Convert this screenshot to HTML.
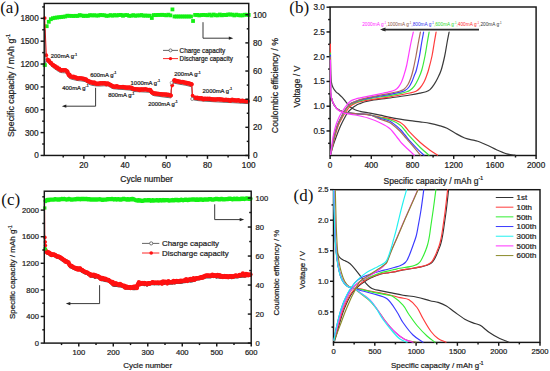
<!DOCTYPE html>
<html><head><meta charset="utf-8"><style>
html,body{margin:0;padding:0;background:#fff;}
svg{display:block;}
text{font-family:"Liberation Sans",sans-serif;stroke-width:0.22px;paint-order:stroke;}
text.sf{font-family:"Liberation Serif",serif;}
</style></head><body>
<svg width="550" height="371" viewBox="0 0 550 371">
<rect width="550" height="371" fill="#fff"/>
<rect x="42.76" y="63.1" width="3.8" height="3.8" fill="#14f014"/>
<rect x="44.82" y="24.3" width="3.8" height="3.8" fill="#14f014"/>
<rect x="46.88" y="19.9" width="3.8" height="3.8" fill="#14f014"/>
<rect x="48.94" y="17.3" width="3.8" height="3.8" fill="#14f014"/>
<rect x="51.01" y="16.3" width="3.8" height="3.8" fill="#14f014"/>
<rect x="53.07" y="15.85" width="3.8" height="3.8" fill="#14f014"/>
<rect x="55.13" y="15.6" width="3.8" height="3.8" fill="#14f014"/>
<rect x="57.19" y="15.35" width="3.8" height="3.8" fill="#14f014"/>
<rect x="59.25" y="15.1" width="3.8" height="3.8" fill="#14f014"/>
<rect x="61.31" y="14.85" width="3.8" height="3.8" fill="#14f014"/>
<rect x="63.37" y="14.6" width="3.8" height="3.8" fill="#14f014"/>
<rect x="65.43" y="13.82" width="3.8" height="3.8" fill="#14f014"/>
<rect x="67.49" y="13.93" width="3.8" height="3.8" fill="#14f014"/>
<rect x="69.55" y="13.98" width="3.8" height="3.8" fill="#14f014"/>
<rect x="71.61" y="14.12" width="3.8" height="3.8" fill="#14f014"/>
<rect x="73.68" y="13.91" width="3.8" height="3.8" fill="#14f014"/>
<rect x="75.74" y="14.08" width="3.8" height="3.8" fill="#14f014"/>
<rect x="77.8" y="13.18" width="3.8" height="3.8" fill="#14f014"/>
<rect x="79.86" y="13.61" width="3.8" height="3.8" fill="#14f014"/>
<rect x="81.92" y="14.08" width="3.8" height="3.8" fill="#14f014"/>
<rect x="83.98" y="13.78" width="3.8" height="3.8" fill="#14f014"/>
<rect x="86.04" y="14.02" width="3.8" height="3.8" fill="#14f014"/>
<rect x="88.1" y="13.23" width="3.8" height="3.8" fill="#14f014"/>
<rect x="90.16" y="13.57" width="3.8" height="3.8" fill="#14f014"/>
<rect x="92.22" y="13.34" width="3.8" height="3.8" fill="#14f014"/>
<rect x="94.29" y="13.63" width="3.8" height="3.8" fill="#14f014"/>
<rect x="96.35" y="13.65" width="3.8" height="3.8" fill="#14f014"/>
<rect x="98.41" y="13.09" width="3.8" height="3.8" fill="#14f014"/>
<rect x="100.47" y="13.28" width="3.8" height="3.8" fill="#14f014"/>
<rect x="102.53" y="13.34" width="3.8" height="3.8" fill="#14f014"/>
<rect x="104.59" y="13.96" width="3.8" height="3.8" fill="#14f014"/>
<rect x="106.65" y="13.81" width="3.8" height="3.8" fill="#14f014"/>
<rect x="108.71" y="13.19" width="3.8" height="3.8" fill="#14f014"/>
<rect x="110.77" y="13.82" width="3.8" height="3.8" fill="#14f014"/>
<rect x="112.83" y="13.15" width="3.8" height="3.8" fill="#14f014"/>
<rect x="114.9" y="13.63" width="3.8" height="3.8" fill="#14f014"/>
<rect x="116.96" y="13.13" width="3.8" height="3.8" fill="#14f014"/>
<rect x="119.02" y="12.99" width="3.8" height="3.8" fill="#14f014"/>
<rect x="121.08" y="13.86" width="3.8" height="3.8" fill="#14f014"/>
<rect x="123.14" y="13.19" width="3.8" height="3.8" fill="#14f014"/>
<rect x="125.2" y="13.18" width="3.8" height="3.8" fill="#14f014"/>
<rect x="127.26" y="13.94" width="3.8" height="3.8" fill="#14f014"/>
<rect x="129.32" y="13.82" width="3.8" height="3.8" fill="#14f014"/>
<rect x="131.38" y="13.23" width="3.8" height="3.8" fill="#14f014"/>
<rect x="133.44" y="13.9" width="3.8" height="3.8" fill="#14f014"/>
<rect x="135.51" y="13.47" width="3.8" height="3.8" fill="#14f014"/>
<rect x="137.57" y="13.6" width="3.8" height="3.8" fill="#14f014"/>
<rect x="139.63" y="13.12" width="3.8" height="3.8" fill="#14f014"/>
<rect x="141.69" y="13.84" width="3.8" height="3.8" fill="#14f014"/>
<rect x="143.75" y="13.59" width="3.8" height="3.8" fill="#14f014"/>
<rect x="145.81" y="13.85" width="3.8" height="3.8" fill="#14f014"/>
<rect x="147.87" y="13.77" width="3.8" height="3.8" fill="#14f014"/>
<rect x="149.93" y="16.1" width="3.8" height="3.8" fill="#14f014"/>
<rect x="151.99" y="13.16" width="3.8" height="3.8" fill="#14f014"/>
<rect x="154.05" y="13.22" width="3.8" height="3.8" fill="#14f014"/>
<rect x="156.12" y="13.01" width="3.8" height="3.8" fill="#14f014"/>
<rect x="158.18" y="12.99" width="3.8" height="3.8" fill="#14f014"/>
<rect x="160.24" y="12.9" width="3.8" height="3.8" fill="#14f014"/>
<rect x="162.3" y="13.13" width="3.8" height="3.8" fill="#14f014"/>
<rect x="164.36" y="13.42" width="3.8" height="3.8" fill="#14f014"/>
<rect x="166.42" y="12.81" width="3.8" height="3.8" fill="#14f014"/>
<rect x="168.48" y="13.48" width="3.8" height="3.8" fill="#14f014"/>
<rect x="170.54" y="7.5" width="3.8" height="3.8" fill="#14f014"/>
<rect x="172.6" y="14.6" width="3.8" height="3.8" fill="#14f014"/>
<rect x="174.66" y="14.6" width="3.8" height="3.8" fill="#14f014"/>
<rect x="176.73" y="14.6" width="3.8" height="3.8" fill="#14f014"/>
<rect x="178.79" y="14.6" width="3.8" height="3.8" fill="#14f014"/>
<rect x="180.85" y="14.6" width="3.8" height="3.8" fill="#14f014"/>
<rect x="182.91" y="14.6" width="3.8" height="3.8" fill="#14f014"/>
<rect x="184.97" y="14.6" width="3.8" height="3.8" fill="#14f014"/>
<rect x="187.03" y="14.6" width="3.8" height="3.8" fill="#14f014"/>
<rect x="189.09" y="14.6" width="3.8" height="3.8" fill="#14f014"/>
<rect x="191.15" y="19.1" width="3.8" height="3.8" fill="#14f014"/>
<rect x="193.21" y="13.04" width="3.8" height="3.8" fill="#14f014"/>
<rect x="195.27" y="13.01" width="3.8" height="3.8" fill="#14f014"/>
<rect x="197.34" y="13.51" width="3.8" height="3.8" fill="#14f014"/>
<rect x="199.4" y="13.16" width="3.8" height="3.8" fill="#14f014"/>
<rect x="201.46" y="12.99" width="3.8" height="3.8" fill="#14f014"/>
<rect x="203.52" y="13.15" width="3.8" height="3.8" fill="#14f014"/>
<rect x="205.58" y="13.36" width="3.8" height="3.8" fill="#14f014"/>
<rect x="207.64" y="12.71" width="3.8" height="3.8" fill="#14f014"/>
<rect x="209.7" y="13.62" width="3.8" height="3.8" fill="#14f014"/>
<rect x="211.76" y="12.65" width="3.8" height="3.8" fill="#14f014"/>
<rect x="213.82" y="13.37" width="3.8" height="3.8" fill="#14f014"/>
<rect x="215.88" y="13.46" width="3.8" height="3.8" fill="#14f014"/>
<rect x="217.95" y="12.63" width="3.8" height="3.8" fill="#14f014"/>
<rect x="220.01" y="13.39" width="3.8" height="3.8" fill="#14f014"/>
<rect x="222.07" y="12.96" width="3.8" height="3.8" fill="#14f014"/>
<rect x="224.13" y="13.16" width="3.8" height="3.8" fill="#14f014"/>
<rect x="226.19" y="12.59" width="3.8" height="3.8" fill="#14f014"/>
<rect x="228.25" y="12.61" width="3.8" height="3.8" fill="#14f014"/>
<rect x="230.31" y="12.74" width="3.8" height="3.8" fill="#14f014"/>
<rect x="232.37" y="13.51" width="3.8" height="3.8" fill="#14f014"/>
<rect x="234.43" y="12.74" width="3.8" height="3.8" fill="#14f014"/>
<rect x="236.49" y="13.29" width="3.8" height="3.8" fill="#14f014"/>
<rect x="238.56" y="13.46" width="3.8" height="3.8" fill="#14f014"/>
<rect x="240.62" y="13.46" width="3.8" height="3.8" fill="#14f014"/>
<rect x="242.68" y="12.86" width="3.8" height="3.8" fill="#14f014"/>
<rect x="244.74" y="12.86" width="3.8" height="3.8" fill="#14f014"/>
<rect x="246.8" y="13.02" width="3.8" height="3.8" fill="#14f014"/>
<path d="M44.7 65 L46.5 61 L49 63.7 L50.5 65.3 L52.5 67.1 L54.5 68.7 L56.5 70.1 L58.5 71.5 L60.5 72.5 L62.5 72.7 L64.5 72.8 L66.5 73.1 L67.6 75 L68.6 77.5 L70 78.6 L72 79.3 L75 80 L78 80.6 L81 80.9 L84 81.3 L86 82.1 L88 83.5 L90 84.7 L93 85.5 L96 85.9 L100 86 L104 85.8 L108 85.8 L110.5 87.5 L113 88.7 L118 89.2 L124 89.6 L130 90.1 L132.5 90.7 L134 91.5 L140 91.8 L146 92.1 L150.5 92.4 L152 94.9 L154 95.7 L160 96.5 L166 97.3 L171 97.9 L171.5 82.8 L174.2 83.2 L180 84.3 L186 85.3 L191.8 86.8 L192.2 99 L194.2 100 L198 100.6 L205 101.2 L215 101.8 L225 102.3 L235 102.8 L248 103.6" fill="none" stroke="#6a6a6a" stroke-width="1" stroke-linejoin="round" stroke-linecap="round"/>
<path d="M44.7 18 L46.3 55.2 L47.6 59.6" fill="none" stroke="#ff1111" stroke-width="1" stroke-linejoin="round" stroke-linecap="round"/>
<path d="M171 95.4 L171.2 90 L172.2 85.3 L174.2 80.8" fill="none" stroke="#ff1111" stroke-width="1" stroke-linejoin="round" stroke-linecap="round"/>
<path d="M191.8 84.3 L192.5 95.5 L194.2 97.6" fill="none" stroke="#ff1111" stroke-width="1" stroke-linejoin="round" stroke-linecap="round"/>
<path d="M47.6 59.6 L49 61.2 L50.5 62.8 L52.5 64.6 L54.5 66.2 L56.5 67.6 L58.5 69 L60.5 70 L62.5 70.2 L64.5 70.3 L66.5 70.6 L67.6 72.5 L68.6 75 L70 76.1 L72 76.8 L75 77.5 L78 78.1 L81 78.4 L84 78.8 L86 79.6 L88 81 L90 82.2 L93 83 L96 83.4 L100 83.5 L104 83.3 L108 83.3 L110.5 85 L113 86.2 L118 86.7 L124 87.1 L130 87.6 L132.5 88.2 L134 89 L140 89.3 L146 89.6 L150.5 89.9 L152 92.4 L154 93.2 L160 94 L166 94.8 L171 95.4" fill="none" stroke="#ff1111" stroke-width="3.9" stroke-linejoin="round" stroke-linecap="round"/>
<path d="M174.2 80.8 L180 81.8 L186 82.8 L191.8 84.3" fill="none" stroke="#ff1111" stroke-width="4.1" stroke-linejoin="round" stroke-linecap="round"/>
<path d="M194.2 97.6 L198 98.2 L205 98.8 L215 99.4 L225 99.9 L235 100.4 L248 101.2" fill="none" stroke="#ff1111" stroke-width="3.9" stroke-linejoin="round" stroke-linecap="round"/>
<g fill="#ff1111"><circle cx="48.78" cy="60.5" r="2.2"/><circle cx="50.84" cy="62.9" r="2.2"/><circle cx="52.91" cy="65.04" r="2.2"/><circle cx="54.97" cy="66.27" r="2.2"/><circle cx="57.03" cy="67.54" r="2.2"/><circle cx="59.09" cy="68.69" r="2.2"/><circle cx="61.15" cy="70.25" r="2.2"/><circle cx="63.21" cy="70.11" r="2.2"/><circle cx="65.27" cy="70.13" r="2.2"/><circle cx="67.33" cy="71.64" r="2.2"/><circle cx="69.39" cy="74.71" r="2.2"/><circle cx="71.45" cy="76.59" r="2.2"/><circle cx="73.52" cy="76.78" r="2.2"/><circle cx="75.58" cy="77.55" r="2.2"/><circle cx="77.64" cy="78.49" r="2.2"/><circle cx="79.7" cy="78.1" r="2.2"/><circle cx="81.76" cy="78.41" r="2.2"/><circle cx="83.82" cy="79.06" r="2.2"/><circle cx="85.88" cy="79.44" r="2.2"/><circle cx="87.94" cy="80.96" r="2.2"/><circle cx="90" cy="81.76" r="2.2"/><circle cx="92.06" cy="82.39" r="2.2"/><circle cx="94.12" cy="82.54" r="2.2"/><circle cx="96.19" cy="83.71" r="2.2"/><circle cx="98.25" cy="83.86" r="2.2"/><circle cx="100.31" cy="83.29" r="2.2"/><circle cx="102.37" cy="83.31" r="2.2"/><circle cx="104.43" cy="83.14" r="2.2"/><circle cx="106.49" cy="84.22" r="2.2"/><circle cx="108.55" cy="84.01" r="2.2"/><circle cx="110.61" cy="85" r="2.2"/><circle cx="112.67" cy="86.28" r="2.2"/><circle cx="114.73" cy="86.84" r="2.2"/><circle cx="116.8" cy="86.23" r="2.2"/><circle cx="118.86" cy="86.98" r="2.2"/><circle cx="120.92" cy="87.11" r="2.2"/><circle cx="122.98" cy="87.04" r="2.2"/><circle cx="125.04" cy="87.47" r="2.2"/><circle cx="127.1" cy="87.78" r="2.2"/><circle cx="129.16" cy="87.55" r="2.2"/><circle cx="131.22" cy="87.78" r="2.2"/><circle cx="133.28" cy="88.95" r="2.2"/><circle cx="135.34" cy="89.13" r="2.2"/><circle cx="137.41" cy="89.33" r="2.2"/><circle cx="139.47" cy="89.97" r="2.2"/><circle cx="141.53" cy="89.52" r="2.2"/><circle cx="143.59" cy="89.47" r="2.2"/><circle cx="145.65" cy="89.13" r="2.2"/><circle cx="147.71" cy="89.86" r="2.2"/><circle cx="149.77" cy="89.99" r="2.2"/><circle cx="151.83" cy="92.34" r="2.2"/><circle cx="153.89" cy="93.37" r="2.2"/><circle cx="155.95" cy="93.72" r="2.2"/><circle cx="158.02" cy="93.83" r="2.2"/><circle cx="160.08" cy="94.08" r="2.2"/><circle cx="162.14" cy="94.5" r="2.2"/><circle cx="164.2" cy="94.34" r="2.2"/><circle cx="166.26" cy="94.51" r="2.2"/><circle cx="168.32" cy="94.75" r="2.2"/><circle cx="170.38" cy="95.38" r="2.2"/><circle cx="174.5" cy="80.26" r="2.2"/><circle cx="176.56" cy="81.06" r="2.2"/><circle cx="178.63" cy="81.52" r="2.2"/><circle cx="180.69" cy="82.04" r="2.2"/><circle cx="182.75" cy="81.92" r="2.2"/><circle cx="184.81" cy="82.64" r="2.2"/><circle cx="186.87" cy="83.06" r="2.2"/><circle cx="188.93" cy="83.39" r="2.2"/><circle cx="190.99" cy="84.13" r="2.2"/><circle cx="195.11" cy="97.7" r="2.2"/><circle cx="197.17" cy="97.7" r="2.2"/><circle cx="199.24" cy="98.21" r="2.2"/><circle cx="201.3" cy="98.19" r="2.2"/><circle cx="203.36" cy="99.33" r="2.2"/><circle cx="205.42" cy="98.76" r="2.2"/><circle cx="207.48" cy="98.75" r="2.2"/><circle cx="209.54" cy="98.59" r="2.2"/><circle cx="211.6" cy="99.21" r="2.2"/><circle cx="213.66" cy="99.47" r="2.2"/><circle cx="215.72" cy="99.47" r="2.2"/><circle cx="217.78" cy="99.09" r="2.2"/><circle cx="219.85" cy="99.3" r="2.2"/><circle cx="221.91" cy="99.39" r="2.2"/><circle cx="223.97" cy="99.93" r="2.2"/><circle cx="226.03" cy="99.68" r="2.2"/><circle cx="228.09" cy="100.04" r="2.2"/><circle cx="230.15" cy="100.8" r="2.2"/><circle cx="232.21" cy="99.63" r="2.2"/><circle cx="234.27" cy="100.29" r="2.2"/><circle cx="236.33" cy="100.49" r="2.2"/><circle cx="238.39" cy="100.11" r="2.2"/><circle cx="240.46" cy="101.12" r="2.2"/><circle cx="242.52" cy="100.79" r="2.2"/><circle cx="244.58" cy="101.14" r="2.2"/><circle cx="246.64" cy="101.33" r="2.2"/></g>
<circle cx="44.7" cy="18" r="1.85" fill="#ff1111" stroke="none" stroke-width="0"/>
<circle cx="46.3" cy="55.2" r="1.85" fill="#ff1111" stroke="none" stroke-width="0"/>
<circle cx="172.2" cy="85.3" r="1.85" fill="#ff1111" stroke="none" stroke-width="0"/>
<circle cx="192.6" cy="95.5" r="1.85" fill="#ff1111" stroke="none" stroke-width="0"/>
<circle cx="44.8" cy="65.3" r="1.5" fill="#fff" stroke="#777" stroke-width="0.8"/>
<rect x="43.1" y="63.3" width="3.4" height="3.4" fill="#14f014"/>
<circle cx="192.2" cy="99" r="1.5" fill="#fff" stroke="#777" stroke-width="0.8"/>
<circle cx="171.5" cy="82.8" r="1.4" fill="#fff" stroke="#888" stroke-width="0.7"/>
<path d="M44.9 30 L45.1 62" fill="none" stroke="#333" stroke-width="0.8" stroke-linejoin="round" stroke-linecap="round"/>
<text x="50.8" y="58.2" font-size="5.9" text-anchor="start" fill="#222222" stroke="#222222">200mA g<tspan font-size="3.25" dy="-2.66">-1</tspan></text>
<text x="62.3" y="89.8" font-size="5.9" text-anchor="start" fill="#222222" stroke="#222222">400mA g<tspan font-size="3.25" dy="-2.66">-1</tspan></text>
<text x="90.2" y="76.8" font-size="5.9" text-anchor="start" fill="#222222" stroke="#222222">600mA g<tspan font-size="3.25" dy="-2.66">-1</tspan></text>
<text x="108.2" y="97.2" font-size="5.9" text-anchor="start" fill="#222222" stroke="#222222">800mA g<tspan font-size="3.25" dy="-2.66">-1</tspan></text>
<text x="130.6" y="84.6" font-size="5.9" text-anchor="start" fill="#222222" stroke="#222222">1000mA g<tspan font-size="3.25" dy="-2.66">-1</tspan></text>
<text x="148.2" y="105.8" font-size="5.9" text-anchor="start" fill="#222222" stroke="#222222">2000mA g<tspan font-size="3.25" dy="-2.66">-1</tspan></text>
<text x="174.3" y="76.2" font-size="5.9" text-anchor="start" fill="#222222" stroke="#222222">200mA g<tspan font-size="3.25" dy="-2.66">-1</tspan></text>
<text x="202.6" y="92.8" font-size="5.9" text-anchor="start" fill="#222222" stroke="#222222">2000mA g<tspan font-size="3.25" dy="-2.66">-1</tspan></text>
<line x1="95.6" y1="87.8" x2="95.6" y2="106.2" stroke="#222" stroke-width="0.9"/>
<line x1="95.6" y1="106.2" x2="64.5" y2="106.2" stroke="#222" stroke-width="0.9"/>
<path d="M61.8 106.2 L66.3 104.6 L66.3 107.8 Z" fill="#222"/>
<line x1="203" y1="22.2" x2="203" y2="38.2" stroke="#222" stroke-width="0.9"/>
<line x1="203" y1="38.2" x2="230.6" y2="38.2" stroke="#222" stroke-width="0.9"/>
<path d="M233.3 38.2 L228.8 36.6 L228.8 39.8 Z" fill="#222"/>
<line x1="163" y1="50.4" x2="178" y2="50.4" stroke="#555" stroke-width="0.9"/>
<circle cx="170.5" cy="50.4" r="1.5" fill="#fff" stroke="#555" stroke-width="0.8"/>
<line x1="163" y1="58.6" x2="178" y2="58.6" stroke="#ff1111" stroke-width="0.9"/>
<circle cx="170.5" cy="58.6" r="1.7" fill="#ff1111" stroke="none" stroke-width="0"/>
<text x="179.6" y="52.6" font-size="6.3" text-anchor="start" fill="#222222" stroke="#222222">Charge capacity</text>
<text x="179.6" y="60.8" font-size="6.3" text-anchor="start" fill="#222222" stroke="#222222">Discharge capacity</text>
<rect x="44.2" y="3.45" width="204.55" height="152" fill="none" stroke="#161616" stroke-width="1.45"/>
<line x1="40.6" y1="155.45" x2="44.2" y2="155.45" stroke="#161616" stroke-width="1.45"/>
<text x="38.7" y="158.4" font-size="8.2" text-anchor="end" fill="#222222" stroke="#222222">0</text>
<line x1="40.6" y1="132.6" x2="44.2" y2="132.6" stroke="#161616" stroke-width="1.45"/>
<text x="38.7" y="135.55" font-size="8.2" text-anchor="end" fill="#222222" stroke="#222222">300</text>
<line x1="40.6" y1="109.75" x2="44.2" y2="109.75" stroke="#161616" stroke-width="1.45"/>
<text x="38.7" y="112.7" font-size="8.2" text-anchor="end" fill="#222222" stroke="#222222">600</text>
<line x1="40.6" y1="86.9" x2="44.2" y2="86.9" stroke="#161616" stroke-width="1.45"/>
<text x="38.7" y="89.85" font-size="8.2" text-anchor="end" fill="#222222" stroke="#222222">900</text>
<line x1="40.6" y1="64.05" x2="44.2" y2="64.05" stroke="#161616" stroke-width="1.45"/>
<text x="38.7" y="67" font-size="8.2" text-anchor="end" fill="#222222" stroke="#222222">1200</text>
<line x1="40.6" y1="41.2" x2="44.2" y2="41.2" stroke="#161616" stroke-width="1.45"/>
<text x="38.7" y="44.15" font-size="8.2" text-anchor="end" fill="#222222" stroke="#222222">1500</text>
<line x1="40.6" y1="18.35" x2="44.2" y2="18.35" stroke="#161616" stroke-width="1.45"/>
<text x="38.7" y="21.3" font-size="8.2" text-anchor="end" fill="#222222" stroke="#222222">1800</text>
<line x1="42.2" y1="144.02" x2="44.2" y2="144.02" stroke="#161616" stroke-width="1.45"/>
<line x1="42.2" y1="121.17" x2="44.2" y2="121.17" stroke="#161616" stroke-width="1.45"/>
<line x1="42.2" y1="98.32" x2="44.2" y2="98.32" stroke="#161616" stroke-width="1.45"/>
<line x1="42.2" y1="75.47" x2="44.2" y2="75.47" stroke="#161616" stroke-width="1.45"/>
<line x1="42.2" y1="52.62" x2="44.2" y2="52.62" stroke="#161616" stroke-width="1.45"/>
<line x1="42.2" y1="29.77" x2="44.2" y2="29.77" stroke="#161616" stroke-width="1.45"/>
<line x1="42.2" y1="6.92" x2="44.2" y2="6.92" stroke="#161616" stroke-width="1.45"/>
<line x1="83.82" y1="155.45" x2="83.82" y2="158.85" stroke="#161616" stroke-width="1.45"/>
<text x="83.82" y="167.8" font-size="8.2" text-anchor="middle" fill="#222222" stroke="#222222">20</text>
<line x1="125.04" y1="155.45" x2="125.04" y2="158.85" stroke="#161616" stroke-width="1.45"/>
<text x="125.04" y="167.8" font-size="8.2" text-anchor="middle" fill="#222222" stroke="#222222">40</text>
<line x1="166.26" y1="155.45" x2="166.26" y2="158.85" stroke="#161616" stroke-width="1.45"/>
<text x="166.26" y="167.8" font-size="8.2" text-anchor="middle" fill="#222222" stroke="#222222">60</text>
<line x1="207.48" y1="155.45" x2="207.48" y2="158.85" stroke="#161616" stroke-width="1.45"/>
<text x="207.48" y="167.8" font-size="8.2" text-anchor="middle" fill="#222222" stroke="#222222">80</text>
<line x1="248.7" y1="155.45" x2="248.7" y2="158.85" stroke="#161616" stroke-width="1.45"/>
<text x="248.7" y="167.8" font-size="8.2" text-anchor="middle" fill="#222222" stroke="#222222">100</text>
<line x1="63.21" y1="155.45" x2="63.21" y2="157.45" stroke="#161616" stroke-width="1.45"/>
<line x1="104.43" y1="155.45" x2="104.43" y2="157.45" stroke="#161616" stroke-width="1.45"/>
<line x1="145.65" y1="155.45" x2="145.65" y2="157.45" stroke="#161616" stroke-width="1.45"/>
<line x1="186.87" y1="155.45" x2="186.87" y2="157.45" stroke="#161616" stroke-width="1.45"/>
<line x1="228.09" y1="155.45" x2="228.09" y2="157.45" stroke="#161616" stroke-width="1.45"/>
<line x1="245.35" y1="155.45" x2="248.75" y2="155.45" stroke="#161616" stroke-width="1.45"/>
<text x="252.95" y="158.4" font-size="8.2" text-anchor="start" fill="#222222" stroke="#222222">0</text>
<line x1="245.35" y1="127.31" x2="248.75" y2="127.31" stroke="#161616" stroke-width="1.45"/>
<text x="252.95" y="130.26" font-size="8.2" text-anchor="start" fill="#222222" stroke="#222222">20</text>
<line x1="245.35" y1="99.17" x2="248.75" y2="99.17" stroke="#161616" stroke-width="1.45"/>
<text x="252.95" y="102.12" font-size="8.2" text-anchor="start" fill="#222222" stroke="#222222">40</text>
<line x1="245.35" y1="71.03" x2="248.75" y2="71.03" stroke="#161616" stroke-width="1.45"/>
<text x="252.95" y="73.98" font-size="8.2" text-anchor="start" fill="#222222" stroke="#222222">60</text>
<line x1="245.35" y1="42.89" x2="248.75" y2="42.89" stroke="#161616" stroke-width="1.45"/>
<text x="252.95" y="45.84" font-size="8.2" text-anchor="start" fill="#222222" stroke="#222222">80</text>
<line x1="245.35" y1="14.75" x2="248.75" y2="14.75" stroke="#161616" stroke-width="1.45"/>
<text x="252.95" y="17.7" font-size="8.2" text-anchor="start" fill="#222222" stroke="#222222">100</text>
<line x1="246.75" y1="141.38" x2="248.75" y2="141.38" stroke="#161616" stroke-width="1.45"/>
<line x1="246.75" y1="113.24" x2="248.75" y2="113.24" stroke="#161616" stroke-width="1.45"/>
<line x1="246.75" y1="85.1" x2="248.75" y2="85.1" stroke="#161616" stroke-width="1.45"/>
<line x1="246.75" y1="56.96" x2="248.75" y2="56.96" stroke="#161616" stroke-width="1.45"/>
<line x1="246.75" y1="28.82" x2="248.75" y2="28.82" stroke="#161616" stroke-width="1.45"/>
<text x="146.5" y="182.4" font-size="8.5" text-anchor="middle" fill="#222222" stroke="#222222">Cycle number</text>
<text transform="translate(13.6 85.5) rotate(-90)" font-size="8.8" text-anchor="middle" fill="#222222" stroke="#222">Specific capacity / mAh g<tspan font-size="5.3" dy="-3.8">-1</tspan></text>
<text transform="translate(278.2 85.6) rotate(-90)" font-size="8.75" text-anchor="middle" fill="#222222" stroke="#222">Coulombic efficiency / %</text>
<text x="0.2" y="12.6" font-size="17" fill="#111" class="sf">(a)</text>
<rect x="330.1" y="7" width="206" height="148.5" fill="none" stroke="#161616" stroke-width="1.45"/>
<line x1="326.5" y1="130.95" x2="330.1" y2="130.95" stroke="#161616" stroke-width="1.45"/>
<text x="324.9" y="133.9" font-size="8.2" text-anchor="end" fill="#222222" stroke="#222222">0.5</text>
<line x1="326.5" y1="106.2" x2="330.1" y2="106.2" stroke="#161616" stroke-width="1.45"/>
<text x="324.9" y="109.15" font-size="8.2" text-anchor="end" fill="#222222" stroke="#222222">1.0</text>
<line x1="326.5" y1="81.45" x2="330.1" y2="81.45" stroke="#161616" stroke-width="1.45"/>
<text x="324.9" y="84.4" font-size="8.2" text-anchor="end" fill="#222222" stroke="#222222">1.5</text>
<line x1="326.5" y1="56.7" x2="330.1" y2="56.7" stroke="#161616" stroke-width="1.45"/>
<text x="324.9" y="59.65" font-size="8.2" text-anchor="end" fill="#222222" stroke="#222222">2.0</text>
<line x1="326.5" y1="31.95" x2="330.1" y2="31.95" stroke="#161616" stroke-width="1.45"/>
<text x="324.9" y="34.9" font-size="8.2" text-anchor="end" fill="#222222" stroke="#222222">2.5</text>
<line x1="326.5" y1="7.2" x2="330.1" y2="7.2" stroke="#161616" stroke-width="1.45"/>
<text x="324.9" y="10.15" font-size="8.2" text-anchor="end" fill="#222222" stroke="#222222">3.0</text>
<line x1="328.1" y1="143.32" x2="330.1" y2="143.32" stroke="#161616" stroke-width="1.45"/>
<line x1="328.1" y1="118.57" x2="330.1" y2="118.57" stroke="#161616" stroke-width="1.45"/>
<line x1="328.1" y1="93.82" x2="330.1" y2="93.82" stroke="#161616" stroke-width="1.45"/>
<line x1="328.1" y1="69.07" x2="330.1" y2="69.07" stroke="#161616" stroke-width="1.45"/>
<line x1="328.1" y1="44.32" x2="330.1" y2="44.32" stroke="#161616" stroke-width="1.45"/>
<line x1="328.1" y1="19.57" x2="330.1" y2="19.57" stroke="#161616" stroke-width="1.45"/>
<line x1="330.1" y1="155.5" x2="330.1" y2="158.9" stroke="#161616" stroke-width="1.45"/>
<text x="330.1" y="167.8" font-size="8.2" text-anchor="middle" fill="#222222" stroke="#222222">0</text>
<line x1="371.3" y1="155.5" x2="371.3" y2="158.9" stroke="#161616" stroke-width="1.45"/>
<text x="371.3" y="167.8" font-size="8.2" text-anchor="middle" fill="#222222" stroke="#222222">400</text>
<line x1="412.5" y1="155.5" x2="412.5" y2="158.9" stroke="#161616" stroke-width="1.45"/>
<text x="412.5" y="167.8" font-size="8.2" text-anchor="middle" fill="#222222" stroke="#222222">800</text>
<line x1="453.7" y1="155.5" x2="453.7" y2="158.9" stroke="#161616" stroke-width="1.45"/>
<text x="453.7" y="167.8" font-size="8.2" text-anchor="middle" fill="#222222" stroke="#222222">1200</text>
<line x1="494.9" y1="155.5" x2="494.9" y2="158.9" stroke="#161616" stroke-width="1.45"/>
<text x="494.9" y="167.8" font-size="8.2" text-anchor="middle" fill="#222222" stroke="#222222">1600</text>
<line x1="536.1" y1="155.5" x2="536.1" y2="158.9" stroke="#161616" stroke-width="1.45"/>
<text x="536.1" y="167.8" font-size="8.2" text-anchor="middle" fill="#222222" stroke="#222222">2000</text>
<line x1="350.7" y1="155.5" x2="350.7" y2="157.5" stroke="#161616" stroke-width="1.45"/>
<line x1="391.9" y1="155.5" x2="391.9" y2="157.5" stroke="#161616" stroke-width="1.45"/>
<line x1="433.1" y1="155.5" x2="433.1" y2="157.5" stroke="#161616" stroke-width="1.45"/>
<line x1="474.3" y1="155.5" x2="474.3" y2="157.5" stroke="#161616" stroke-width="1.45"/>
<line x1="515.5" y1="155.5" x2="515.5" y2="157.5" stroke="#161616" stroke-width="1.45"/>
<text x="383.6" y="183.5" font-size="8.5" fill="#222222" stroke="#222">Specific capacity / mAh g<tspan font-size="5.1" dy="-3.6">-1</tspan></text>
<text transform="translate(300.3 86.6) rotate(-90)" font-size="8.7" text-anchor="middle" fill="#222222" stroke="#222">Voltage / V</text>
<text x="289.3" y="13.4" font-size="17" fill="#111" class="sf">(b)</text>
<path d="M330.4 48 C330.43 51.67 330.45 64.42 330.6 70 C330.75 75.58 330.9 78.58 331.3 81.5 C331.7 84.42 332.22 85.78 333 87.5 C333.78 89.22 335 90.68 336 91.8 C337 92.92 338 93.3 339 94.2 C340 95.1 340.92 96.02 342 97.2 C343.08 98.38 344.17 99.7 345.5 101.3 C346.83 102.9 348.42 105.38 350 106.8 C351.58 108.22 353.33 109.05 355 109.8 C356.67 110.55 357.5 110.73 360 111.3 C362.5 111.87 366.67 112.55 370 113.2 C373.33 113.85 376.67 114.52 380 115.2 C383.33 115.88 386.67 116.65 390 117.3 C393.33 117.95 396.67 118.55 400 119.1 C403.33 119.65 406.67 120.13 410 120.6 C413.33 121.07 416.67 121.45 420 121.9 C423.33 122.35 426.67 122.65 430 123.3 C433.33 123.95 437.17 124.97 440 125.8 C442.83 126.63 444.5 127.1 447 128.3 C449.5 129.5 452.05 131.38 455 133 C457.95 134.62 461.47 136.77 464.7 138 C467.93 139.23 471.98 139.78 474.4 140.4 C476.82 141.02 477.05 140.9 479.2 141.7 C481.35 142.5 484.33 143.82 487.3 145.2 C490.27 146.58 493.77 148.57 497 150 C500.23 151.43 503.7 152.93 506.7 153.8 C509.7 154.67 513.62 154.97 515 155.2" fill="none" stroke="#3a3a3a" stroke-width="1.2" stroke-linejoin="round" stroke-linecap="round"/>
<path d="M330.6 154.5 C331 153.08 332.02 149.08 333 146 C333.98 142.92 335.25 139.33 336.5 136 C337.75 132.67 339.17 129 340.5 126 C341.83 123 343.25 120.3 344.5 118 C345.75 115.7 346.75 113.83 348 112.2 C349.25 110.57 350.67 109.33 352 108.2 C353.33 107.07 354.67 106.17 356 105.4 C357.33 104.63 358.5 104.2 360 103.6 C361.5 103 363.33 102.3 365 101.8 C366.67 101.3 367.5 101.03 370 100.6 C372.5 100.17 376.67 99.63 380 99.2 C383.33 98.77 386.67 98.45 390 98 C393.33 97.55 396.67 97 400 96.5 C403.33 96 406.67 95.55 410 95 C413.33 94.45 417.33 93.73 420 93.2 C422.67 92.67 424.33 92.4 426 91.8 C427.67 91.2 428.67 90.8 430 89.6 C431.33 88.4 432.75 86.45 434 84.6 C435.25 82.75 436.3 80.93 437.5 78.5 C438.7 76.07 440 73.75 441.2 70 C442.4 66.25 443.73 60.5 444.7 56 C445.67 51.5 446.27 46.97 447 43 C447.73 39.03 448.75 34 449.1 32.2" fill="none" stroke="#3a3a3a" stroke-width="1.2" stroke-linejoin="round" stroke-linecap="round"/>
<path d="M330.4 44 C330.42 48.33 330.47 63 330.5 70 C330.53 77 330.58 82.17 330.6 86 C330.62 89.83 330.45 91 330.6 93 C330.75 95 331.1 96.37 331.5 98 C331.9 99.63 332.25 101.2 333 102.8 C333.75 104.4 334.83 106.3 336 107.6 C337.17 108.9 338.5 109.8 340 110.6 C341.5 111.4 343.33 111.97 345 112.4 C346.67 112.83 347.5 112.93 350 113.2 C352.5 113.47 356.67 113.7 360 114 C363.33 114.3 366.67 114.5 370 115 C373.33 115.5 376.67 116.4 380 117 C383.33 117.6 386.67 117.73 390 118.6 C393.33 119.47 397.5 120.88 400 122.2 C402.5 123.52 403.33 124.8 405 126.5 C406.67 128.2 407.5 129.78 410 132.4 C412.5 135.02 416.67 139.23 420 142.2 C423.33 145.17 427.08 148.03 430 150.2 C432.92 152.37 436.25 154.37 437.5 155.2" fill="none" stroke="#ff3c3c" stroke-width="1.2" stroke-linejoin="round" stroke-linecap="round"/>
<path d="M330.6 154.5 C330.92 153.17 331.72 149.75 332.5 146.5 C333.28 143.25 334.3 138.58 335.3 135 C336.3 131.42 337.33 127.92 338.5 125 C339.67 122.08 340.97 119.83 342.3 117.5 C343.63 115.17 345.22 112.83 346.5 111 C347.78 109.17 348.58 107.77 350 106.5 C351.42 105.23 353.33 104.2 355 103.4 C356.67 102.6 357.5 102.3 360 101.7 C362.5 101.1 366.67 100.37 370 99.8 C373.33 99.23 376.67 98.78 380 98.3 C383.33 97.82 386.67 97.45 390 96.9 C393.33 96.35 396.67 95.65 400 95 C403.33 94.35 407.33 93.63 410 93 C412.67 92.37 414.33 92.03 416 91.2 C417.67 90.37 418.67 89.53 420 88 C421.33 86.47 422.92 84 424 82 C425.08 80 425.75 78 426.5 76 C427.25 74 427.58 73.33 428.5 70 C429.42 66.67 431.05 60.5 432 56 C432.95 51.5 433.52 46.97 434.2 43 C434.88 39.03 435.78 34 436.1 32.2" fill="none" stroke="#ff3c3c" stroke-width="1.2" stroke-linejoin="round" stroke-linecap="round"/>
<path d="M330.4 53 C330.42 55.83 330.47 64.5 330.5 70 C330.53 75.5 330.58 82.17 330.6 86 C330.62 89.83 330.45 91 330.6 93 C330.75 95 331.1 96.37 331.5 98 C331.9 99.63 332.25 101.2 333 102.8 C333.75 104.4 334.83 106.3 336 107.6 C337.17 108.9 338.5 109.8 340 110.6 C341.5 111.4 343.33 111.97 345 112.4 C346.67 112.83 347.5 112.93 350 113.2 C352.5 113.47 356.67 113.7 360 114 C363.33 114.3 366.67 114.4 370 115 C373.33 115.6 376.67 116.8 380 117.6 C383.33 118.4 386.67 118.57 390 119.8 C393.33 121.03 397.5 123.22 400 125 C402.5 126.78 403.33 128.55 405 130.5 C406.67 132.45 407.5 133.92 410 136.7 C412.5 139.48 416.83 144.12 420 147.2 C423.17 150.28 427.5 153.87 429 155.2" fill="none" stroke="#3be83b" stroke-width="1.2" stroke-linejoin="round" stroke-linecap="round"/>
<path d="M330.6 154.5 C330.87 153.17 331.5 149.75 332.2 146.5 C332.9 143.25 333.87 138.58 334.8 135 C335.73 131.42 336.68 127.92 337.8 125 C338.92 122.08 340.22 120 341.5 117.5 C342.78 115 344.08 112.12 345.5 110 C346.92 107.88 348.42 106.03 350 104.8 C351.58 103.57 353.33 103.27 355 102.6 C356.67 101.93 357.5 101.47 360 100.8 C362.5 100.13 366.67 99.23 370 98.6 C373.33 97.97 376.67 97.5 380 97 C383.33 96.5 386.67 96.17 390 95.6 C393.33 95.03 397.33 94.2 400 93.6 C402.67 93 404.33 92.57 406 92 C407.67 91.43 408.58 91.23 410 90.2 C411.42 89.17 413.08 87.75 414.5 85.8 C415.92 83.85 417.28 81.13 418.5 78.5 C419.72 75.87 420.72 73.75 421.8 70 C422.88 66.25 424.1 60.5 425 56 C425.9 51.5 426.52 46.97 427.2 43 C427.88 39.03 428.78 34 429.1 32.2" fill="none" stroke="#3be83b" stroke-width="1.2" stroke-linejoin="round" stroke-linecap="round"/>
<path d="M330.4 55 C330.42 57.5 330.47 64.83 330.5 70 C330.53 75.17 330.58 82.17 330.6 86 C330.62 89.83 330.45 91 330.6 93 C330.75 95 331.1 96.37 331.5 98 C331.9 99.63 332.25 101.2 333 102.8 C333.75 104.4 334.83 106.3 336 107.6 C337.17 108.9 338.5 109.8 340 110.6 C341.5 111.4 343.33 111.97 345 112.4 C346.67 112.83 347.5 112.93 350 113.2 C352.5 113.47 356.67 113.7 360 114 C363.33 114.3 366.67 114.27 370 115 C373.33 115.73 376.67 117.35 380 118.4 C383.33 119.45 386.67 119.5 390 121.3 C393.33 123.1 397.5 126.92 400 129.2 C402.5 131.48 403.33 133 405 135 C406.67 137 407.83 138.77 410 141.2 C412.17 143.63 415.67 147.27 418 149.6 C420.33 151.93 423 154.27 424 155.2" fill="none" stroke="#3c3cff" stroke-width="1.2" stroke-linejoin="round" stroke-linecap="round"/>
<path d="M330.6 154.5 C330.83 153.17 331.35 149.75 332 146.5 C332.65 143.25 333.58 138.58 334.5 135 C335.42 131.42 336.42 127.92 337.5 125 C338.58 122.08 339.75 120 341 117.5 C342.25 115 343.5 112.25 345 110 C346.5 107.75 348.33 105.35 350 104 C351.67 102.65 353.33 102.57 355 101.9 C356.67 101.23 357.5 100.68 360 100 C362.5 99.32 366.67 98.47 370 97.8 C373.33 97.13 376.67 96.58 380 96 C383.33 95.42 386.67 94.93 390 94.3 C393.33 93.67 397.5 92.82 400 92.2 C402.5 91.58 403.5 91.47 405 90.6 C406.5 89.73 407.83 88.52 409 87 C410.17 85.48 411.08 83.5 412 81.5 C412.92 79.5 413.77 76.92 414.5 75 C415.23 73.08 415.57 73.17 416.4 70 C417.23 66.83 418.63 60.5 419.5 56 C420.37 51.5 420.92 46.97 421.6 43 C422.28 39.03 423.27 34 423.6 32.2" fill="none" stroke="#3c3cff" stroke-width="1.2" stroke-linejoin="round" stroke-linecap="round"/>
<path d="M330.4 57 C330.42 59.17 330.47 65.17 330.5 70 C330.53 74.83 330.58 82.17 330.6 86 C330.62 89.83 330.45 91 330.6 93 C330.75 95 331.1 96.37 331.5 98 C331.9 99.63 332.25 101.2 333 102.8 C333.75 104.4 334.83 106.3 336 107.6 C337.17 108.9 338.5 109.8 340 110.6 C341.5 111.4 343.33 111.97 345 112.4 C346.67 112.83 347.5 112.93 350 113.2 C352.5 113.47 356.67 113.7 360 114 C363.33 114.3 366.67 114.13 370 115 C373.33 115.87 376.67 117.9 380 119.2 C383.33 120.5 386.67 120.8 390 122.8 C393.33 124.8 397.5 128.83 400 131.2 C402.5 133.57 403.33 135.1 405 137 C406.67 138.9 407.42 139.57 410 142.6 C412.58 145.63 418.75 153.1 420.5 155.2" fill="none" stroke="#a86a5a" stroke-width="1.2" stroke-linejoin="round" stroke-linecap="round"/>
<path d="M330.6 154.5 C330.83 153.17 331.35 149.75 332 146.5 C332.65 143.25 333.58 138.58 334.5 135 C335.42 131.42 336.42 127.92 337.5 125 C338.58 122.08 339.75 120 341 117.5 C342.25 115 343.5 112.25 345 110 C346.5 107.75 348.33 105.4 350 104 C351.67 102.6 353.33 102.33 355 101.6 C356.67 100.87 357.5 100.33 360 99.6 C362.5 98.87 366.67 97.93 370 97.2 C373.33 96.47 376.67 95.85 380 95.2 C383.33 94.55 386.67 94 390 93.3 C393.33 92.6 397.67 91.68 400 91 C402.33 90.32 402.67 90.28 404 89.2 C405.33 88.12 406.83 86.45 408 84.5 C409.17 82.55 410.15 79.92 411 77.5 C411.85 75.08 412.27 73.58 413.1 70 C413.93 66.42 415.13 60.5 416 56 C416.87 51.5 417.57 46.97 418.3 43 C419.03 39.03 420.05 34 420.4 32.2" fill="none" stroke="#a86a5a" stroke-width="1.2" stroke-linejoin="round" stroke-linecap="round"/>
<path d="M330.4 60 C330.42 62 330.47 67.5 330.5 72 C330.53 76.5 330.45 82.83 330.6 87 C330.75 91.17 331 94.42 331.4 97 C331.8 99.58 332.23 100.7 333 102.5 C333.77 104.3 334.83 106.33 336 107.8 C337.17 109.27 338.5 110.37 340 111.3 C341.5 112.23 342.5 112.78 345 113.4 C347.5 114.02 351.17 114.23 355 115 C358.83 115.77 363.83 116.7 368 118 C372.17 119.3 376.33 121.02 380 122.8 C383.67 124.58 387 126.08 390 128.7 C393 131.32 396 136.03 398 138.5 C400 140.97 400.33 141.72 402 143.5 C403.67 145.28 405.95 147.25 408 149.2 C410.05 151.15 413.25 154.2 414.3 155.2" fill="none" stroke="#ff3cff" stroke-width="1.2" stroke-linejoin="round" stroke-linecap="round"/>
<path d="M330.6 154.5 C330.7 153.78 330.8 153.12 331.2 150.2 C331.6 147.28 332.37 140.63 333 137 C333.63 133.37 334.33 130.9 335 128.4 C335.67 125.9 336.17 124.2 337 122 C337.83 119.8 339 117.12 340 115.2 C341 113.28 342 112.03 343 110.5 C344 108.97 344.83 107.5 346 106 C347.17 104.5 348.5 102.63 350 101.5 C351.5 100.37 353.33 99.8 355 99.2 C356.67 98.6 357.5 98.47 360 97.9 C362.5 97.33 366.67 96.48 370 95.8 C373.33 95.12 376.67 94.48 380 93.8 C383.33 93.12 387.5 92.33 390 91.7 C392.5 91.07 393.58 90.78 395 90 C396.42 89.22 397.42 88.33 398.5 87 C399.58 85.67 400.58 84 401.5 82 C402.42 80 403.17 77.67 404 75 C404.83 72.33 405.67 69.67 406.5 66 C407.33 62.33 408.22 57.08 409 53 C409.78 48.92 410.48 44.97 411.2 41.5 C411.92 38.03 412.95 33.75 413.3 32.2" fill="none" stroke="#ff3cff" stroke-width="1.2" stroke-linejoin="round" stroke-linecap="round"/>
<text x="362.2" y="25.9" font-size="5.0" fill="#222222" textLength="139.5" lengthAdjust="spacingAndGlyphs"><tspan fill="#ff22ff">2000mA g<tspan font-size="3" dy="-2.1">-1</tspan></tspan><tspan dy="2.1" fill="#8a5040">,1000mA g<tspan font-size="3" dy="-2.1">-1</tspan></tspan><tspan dy="2.1" fill="#3030ee">,800mA g<tspan font-size="3" dy="-2.1">-1</tspan></tspan><tspan dy="2.1" fill="#2ad82a">,600mA g<tspan font-size="3" dy="-2.1">-1</tspan></tspan><tspan dy="2.1" fill="#ff2a2a">,400mA g<tspan font-size="3" dy="-2.1">-1</tspan></tspan><tspan dy="2.1" fill="#333">,200mA g<tspan font-size="3" dy="-2.1">-1</tspan></tspan></text>
<line x1="382.5" y1="29.6" x2="479" y2="29.6" stroke="#2a2a2a" stroke-width="1.7"/>
<path d="M380 29.6 L385.5 27.6 L385.5 31.6 Z" fill="#2a2a2a"/>
<path d="M45.6 200.97 L47 199.84 L48.62 200.03 L50.25 199.65 L51.88 199.62 L53.5 199.61 L55.12 199.27 L56.75 199.43 L58.38 199.45 L60 199.51 L61.54 199.01 L63.08 199.15 L64.62 198.99 L66.15 199.49 L67.69 199.4 L69.23 198.93 L70.77 199.58 L72.31 199.56 L73.85 199.34 L75.38 199.3 L76.92 198.98 L78.46 198.87 L80 199.22 L81.54 198.91 L83.08 199.01 L84.62 199.07 L86.15 198.93 L87.69 199.25 L89.23 199.25 L90.77 199.55 L92.31 199.34 L93.85 199.44 L95.38 199.35 L96.92 199.48 L98.46 199.35 L100 199.24 L101.54 199.73 L103.08 199.72 L104.62 199.59 L106.15 199.48 L107.69 199.19 L109.23 199.12 L110.77 199.14 L112.31 198.98 L113.85 199.45 L115.38 199.18 L116.92 199.47 L118.46 199.14 L120 199.52 L121.56 199.45 L123.11 198.87 L124.67 199.03 L126.22 199.53 L127.78 199.23 L129.33 199.6 L130.89 199.21 L132.44 198.99 L134 199.39 L135.5 200.14 L137 200.44 L138.53 200.3 L140.07 200.46 L141.6 200.88 L143.13 200.73 L144.67 200.27 L146.2 200.34 L147.73 200.23 L149.27 200.19 L150.8 200.69 L152.33 200.24 L153.87 200.49 L155.4 200.4 L156.93 200.21 L158.47 200.58 L160 200.14 L161.54 200.47 L163.08 200.07 L164.62 200.25 L166.15 200.08 L167.69 200.09 L169.23 200.55 L170.77 200.4 L172.31 200.02 L173.85 200.39 L175.38 199.89 L176.92 199.99 L178.46 200.28 L180 200.1 L181.54 199.69 L183.08 200.28 L184.62 199.71 L186.15 199.71 L187.69 200.04 L189.23 199.7 L190.77 199.64 L192.31 199.46 L193.85 199.44 L195.38 199.75 L196.92 199.48 L198.46 199.7 L200 199.51 L201.54 199.53 L203.08 199.84 L204.62 199.47 L206.15 199.5 L207.69 199.66 L209.23 199.15 L210.77 199.09 L212.31 199.58 L213.85 199.48 L215.38 199.04 L216.92 198.96 L218.46 199.31 L220 199.41 L221.54 198.87 L223.08 199.38 L224.62 199.32 L226.15 199.11 L227.69 198.97 L229.23 198.73 L230.77 198.67 L232.31 199.3 L233.85 198.78 L235.38 199.09 L236.92 198.76 L238.46 199.14 L240 198.97 L241.5 198.73 L243 198.62 L244.5 198.97 L246 198.48 L247.5 198.57 L249 198.77 L250.5 198.7" fill="none" stroke="#14f014" stroke-width="4.4" stroke-linejoin="round" stroke-linecap="round"/>
<rect x="43.2" y="206.4" width="3.2" height="3.2" fill="#14f014"/>
<path d="M45.6 251.72 L46.5 253.5 L48.25 254.3 L50 255.98 L51.67 255.87 L53.33 256.23 L55 256.99 L56.67 257.88 L58.33 258.27 L60 259.11 L61.67 260.35 L63.33 261.6 L65 262.27 L66.5 263.13 L68 264.25 L70 267.63 L71.67 268.24 L73.33 269.17 L75 269.98 L76.67 269.91 L78.33 270.15 L80 270.47 L81.67 272.17 L83.33 272.88 L85 274.02 L86.67 274.07 L88.33 275.52 L90 276.28 L91.67 277.04 L93.33 277.2 L95 278.35 L96.5 277.52 L98 277.94 L100 279.91 L101.67 280.53 L103.33 280.85 L105 281.28 L106.5 281.51 L108 281.77 L110 282.97 L111.5 284.57 L113 286.06 L114.67 286.2 L116.33 285.96 L118 286.46 L120 286.73 L122 287.17 L123.5 288.01 L125 288.59 L126.67 288.94 L128.33 289.13 L130 288.82 L131.67 289.33 L133.33 289.64 L135 289.54 L137 289.11 L138.5 285.3 L140 285.44 L141.5 285.14 L143 284.85 L144.33 285.54 L145.67 285.19 L147 286.13 L148.5 284.88 L150 284.79 L151.43 284.65 L152.86 284.4 L154.29 284.79 L155.71 284.58 L157.14 284.66 L158.57 284.91 L160 284.28 L161.36 283.98 L162.73 284.16 L164.09 284.41 L165.45 283.91 L166.82 283.79 L168.18 284.37 L169.55 284.07 L170.91 283.79 L172.27 284.12 L173.64 283.53 L175 283.75 L176.43 283.17 L177.86 283.22 L179.29 283.4 L180.71 283.34 L182.14 283.16 L183.57 282.55 L185 282.57 L186.4 282.13 L187.8 281.77 L189.2 281.9 L190.6 282 L192 281.81 L193.33 281.36 L194.67 281.24 L196 280.3 L197.33 279.87 L198.67 279.79 L200 279.3 L201.5 278.84 L203 278.62 L204.5 278.41 L206 277.89 L207.5 277.56 L209 277.86 L210.5 277.81 L212 277.16 L213.5 276.99 L215 277.13 L216.5 278.06 L218 277.49 L219.4 278.15 L220.8 278.08 L222.2 277.91 L223.6 278.4 L225 277.77 L226.67 277.94 L228.33 278.29 L230 277.97 L231.67 278.63 L233.33 278.03 L235 277.88 L236.4 277.53 L237.8 277.8 L239.2 277.37 L240.6 277.28 L242 277.04 L243.43 277.06 L244.87 277.08 L246.3 276.72 L247.73 276.16 L249.17 276.29 L250.6 276.2" fill="none" stroke="#505050" stroke-width="1.4" stroke-linejoin="round" stroke-linecap="round"/>
<path d="M44.6 204 L44.8 237.4 L45.2 243 L45.6 249.5" fill="none" stroke="#c01010" stroke-width="1" stroke-linejoin="round" stroke-linecap="round"/>
<path d="M45.6 249.82 L46.5 251.6 L48.25 252.4 L50 254.08 L51.67 253.97 L53.33 254.33 L55 255.09 L56.67 255.98 L58.33 256.37 L60 257.21 L61.67 258.45 L63.33 259.7 L65 260.37 L66.5 261.23 L68 262.35 L70 265.73 L71.67 266.34 L73.33 267.27 L75 268.08 L76.67 268.01 L78.33 268.25 L80 268.57 L81.67 270.27 L83.33 270.98 L85 272.12 L86.67 272.17 L88.33 273.62 L90 274.38 L91.67 275.14 L93.33 275.3 L95 276.45 L96.5 275.62 L98 276.04 L100 278.01 L101.67 278.63 L103.33 278.95 L105 279.38 L106.5 279.61 L108 279.87 L110 281.07 L111.5 282.67 L113 284.16 L114.67 284.3 L116.33 284.06 L118 284.56 L120 284.83 L122 285.27 L123.5 286.11 L125 286.69 L126.67 287.04 L128.33 287.23 L130 286.92 L131.67 287.43 L133.33 287.74 L135 287.64 L137 287.21 L138.5 283.4 L140 283.54 L141.5 283.24 L143 282.95 L144.33 283.64 L145.67 283.29 L147 284.23 L148.5 282.98 L150 282.89 L151.43 282.75 L152.86 282.5 L154.29 282.89 L155.71 282.68 L157.14 282.76 L158.57 283.01 L160 282.38 L161.36 282.08 L162.73 282.26 L164.09 282.51 L165.45 282.01 L166.82 281.89 L168.18 282.47 L169.55 282.17 L170.91 281.89 L172.27 282.22 L173.64 281.63 L175 281.85 L176.43 281.27 L177.86 281.32 L179.29 281.5 L180.71 281.44 L182.14 281.26 L183.57 280.65 L185 280.67 L186.4 280.23 L187.8 279.87 L189.2 280 L190.6 280.1 L192 279.91 L193.33 279.46 L194.67 279.34 L196 278.4 L197.33 277.97 L198.67 277.89 L200 277.4 L201.5 276.94 L203 276.72 L204.5 276.51 L206 275.99 L207.5 275.66 L209 275.96 L210.5 275.91 L212 275.26 L213.5 275.09 L215 275.23 L216.5 276.16 L218 275.59 L219.4 276.25 L220.8 276.18 L222.2 276.01 L223.6 276.5 L225 275.87 L226.67 276.04 L228.33 276.39 L230 276.07 L231.67 276.73 L233.33 276.13 L235 275.98 L236.4 275.63 L237.8 275.9 L239.2 275.47 L240.6 275.38 L242 275.14 L243.43 275.16 L244.87 275.18 L246.3 274.82 L247.73 274.26 L249.17 274.39 L250.6 274.3" fill="none" stroke="#ff1111" stroke-width="4" stroke-linejoin="round" stroke-linecap="round"/>
<g fill="#ff1111"><circle cx="46.5" cy="251.93" r="2.15"/><circle cx="47.55" cy="252.88" r="2.15"/><circle cx="48.6" cy="252.4" r="2.15"/><circle cx="49.65" cy="253.01" r="2.15"/><circle cx="50.7" cy="254.13" r="2.15"/><circle cx="51.75" cy="255.21" r="2.15"/><circle cx="52.8" cy="254.83" r="2.15"/><circle cx="53.85" cy="254.32" r="2.15"/><circle cx="54.9" cy="254.86" r="2.15"/><circle cx="55.95" cy="255.71" r="2.15"/><circle cx="57" cy="256.71" r="2.15"/><circle cx="58.05" cy="256.65" r="2.15"/><circle cx="59.1" cy="256.92" r="2.15"/><circle cx="60.15" cy="257.49" r="2.15"/><circle cx="61.2" cy="258.38" r="2.15"/><circle cx="62.25" cy="258.56" r="2.15"/><circle cx="63.3" cy="259.63" r="2.15"/><circle cx="64.35" cy="260.44" r="2.15"/><circle cx="65.4" cy="261.77" r="2.15"/><circle cx="66.45" cy="261.31" r="2.15"/><circle cx="67.5" cy="262.32" r="2.15"/><circle cx="68.55" cy="262.37" r="2.15"/><circle cx="69.6" cy="265.12" r="2.15"/><circle cx="70.65" cy="265.76" r="2.15"/><circle cx="71.7" cy="265.95" r="2.15"/><circle cx="72.75" cy="266.79" r="2.15"/><circle cx="73.8" cy="267.86" r="2.15"/><circle cx="74.85" cy="267.76" r="2.15"/><circle cx="75.9" cy="268.75" r="2.15"/><circle cx="76.95" cy="269.23" r="2.15"/><circle cx="78" cy="269.49" r="2.15"/><circle cx="79.05" cy="269.7" r="2.15"/><circle cx="80.1" cy="268.39" r="2.15"/><circle cx="81.15" cy="269.82" r="2.15"/><circle cx="82.2" cy="269.84" r="2.15"/><circle cx="83.25" cy="271.28" r="2.15"/><circle cx="84.3" cy="271.38" r="2.15"/><circle cx="85.35" cy="272.03" r="2.15"/><circle cx="86.4" cy="272.72" r="2.15"/><circle cx="87.45" cy="272.72" r="2.15"/><circle cx="88.5" cy="273.66" r="2.15"/><circle cx="89.55" cy="273.79" r="2.15"/><circle cx="90.6" cy="275.73" r="2.15"/><circle cx="91.65" cy="274.7" r="2.15"/><circle cx="92.7" cy="275.29" r="2.15"/><circle cx="93.75" cy="274.67" r="2.15"/><circle cx="94.8" cy="275.16" r="2.15"/><circle cx="95.85" cy="275.57" r="2.15"/><circle cx="96.9" cy="276.45" r="2.15"/><circle cx="97.95" cy="276.44" r="2.15"/><circle cx="99" cy="277.07" r="2.15"/><circle cx="100.05" cy="277.49" r="2.15"/><circle cx="101.1" cy="279.13" r="2.15"/><circle cx="102.15" cy="277.87" r="2.15"/><circle cx="103.2" cy="278.25" r="2.15"/><circle cx="104.25" cy="279.27" r="2.15"/><circle cx="105.3" cy="278.71" r="2.15"/><circle cx="106.35" cy="279.5" r="2.15"/><circle cx="107.4" cy="279.98" r="2.15"/><circle cx="108.45" cy="279.86" r="2.15"/><circle cx="109.5" cy="281.01" r="2.15"/><circle cx="110.55" cy="281.72" r="2.15"/><circle cx="111.6" cy="282.24" r="2.15"/><circle cx="112.65" cy="281.8" r="2.15"/><circle cx="113.7" cy="283.23" r="2.15"/><circle cx="114.75" cy="283.99" r="2.15"/><circle cx="115.8" cy="283.21" r="2.15"/><circle cx="116.85" cy="283.9" r="2.15"/><circle cx="117.9" cy="284.42" r="2.15"/><circle cx="118.95" cy="285.14" r="2.15"/><circle cx="120" cy="283.78" r="2.15"/><circle cx="121.05" cy="284.6" r="2.15"/><circle cx="122.1" cy="285.4" r="2.15"/><circle cx="123.15" cy="286.12" r="2.15"/><circle cx="124.2" cy="285.65" r="2.15"/><circle cx="125.25" cy="287.85" r="2.15"/><circle cx="126.3" cy="286.51" r="2.15"/><circle cx="127.35" cy="287.64" r="2.15"/><circle cx="128.4" cy="287.05" r="2.15"/><circle cx="129.45" cy="287.49" r="2.15"/><circle cx="130.5" cy="288.22" r="2.15"/><circle cx="131.55" cy="287.7" r="2.15"/><circle cx="132.6" cy="287.39" r="2.15"/><circle cx="133.65" cy="286.77" r="2.15"/><circle cx="134.7" cy="286.96" r="2.15"/><circle cx="135.75" cy="286.43" r="2.15"/><circle cx="136.8" cy="288.14" r="2.15"/><circle cx="137.85" cy="284.19" r="2.15"/><circle cx="138.9" cy="282.08" r="2.15"/><circle cx="139.95" cy="284.25" r="2.15"/><circle cx="141" cy="283.94" r="2.15"/><circle cx="142.05" cy="282.93" r="2.15"/><circle cx="143.1" cy="283.5" r="2.15"/><circle cx="144.15" cy="282.86" r="2.15"/><circle cx="145.2" cy="283.26" r="2.15"/><circle cx="146.25" cy="284.1" r="2.15"/><circle cx="147.3" cy="284.11" r="2.15"/><circle cx="148.35" cy="283.23" r="2.15"/><circle cx="149.4" cy="283.94" r="2.15"/><circle cx="150.45" cy="283.21" r="2.15"/><circle cx="151.5" cy="282.86" r="2.15"/><circle cx="152.55" cy="282.12" r="2.15"/><circle cx="153.6" cy="282.82" r="2.15"/><circle cx="154.65" cy="282.55" r="2.15"/><circle cx="155.7" cy="282.66" r="2.15"/><circle cx="156.75" cy="283.12" r="2.15"/><circle cx="157.8" cy="282.35" r="2.15"/><circle cx="158.85" cy="282.79" r="2.15"/><circle cx="159.9" cy="283.05" r="2.15"/><circle cx="160.95" cy="282.75" r="2.15"/><circle cx="162" cy="283.75" r="2.15"/><circle cx="163.05" cy="281.48" r="2.15"/><circle cx="164.1" cy="282.34" r="2.15"/><circle cx="165.15" cy="281.66" r="2.15"/><circle cx="166.2" cy="282.21" r="2.15"/><circle cx="167.25" cy="283.55" r="2.15"/><circle cx="168.3" cy="281.23" r="2.15"/><circle cx="169.35" cy="281.9" r="2.15"/><circle cx="170.4" cy="282.35" r="2.15"/><circle cx="171.45" cy="281.98" r="2.15"/><circle cx="172.5" cy="282.37" r="2.15"/><circle cx="173.55" cy="280.95" r="2.15"/><circle cx="174.6" cy="282.27" r="2.15"/><circle cx="175.65" cy="281.12" r="2.15"/><circle cx="176.7" cy="280.86" r="2.15"/><circle cx="177.75" cy="281.72" r="2.15"/><circle cx="178.8" cy="281.56" r="2.15"/><circle cx="179.85" cy="280.78" r="2.15"/><circle cx="180.9" cy="280.62" r="2.15"/><circle cx="181.95" cy="280.84" r="2.15"/><circle cx="183" cy="280.83" r="2.15"/><circle cx="184.05" cy="280.63" r="2.15"/><circle cx="185.1" cy="280.05" r="2.15"/><circle cx="186.15" cy="279.18" r="2.15"/><circle cx="187.2" cy="281.02" r="2.15"/><circle cx="188.25" cy="280.24" r="2.15"/><circle cx="189.3" cy="279.32" r="2.15"/><circle cx="190.35" cy="278.99" r="2.15"/><circle cx="191.4" cy="279.32" r="2.15"/><circle cx="192.45" cy="279.27" r="2.15"/><circle cx="193.5" cy="278.07" r="2.15"/><circle cx="194.55" cy="279.74" r="2.15"/><circle cx="195.6" cy="278.94" r="2.15"/><circle cx="196.65" cy="278.27" r="2.15"/><circle cx="197.7" cy="278.38" r="2.15"/><circle cx="198.75" cy="278.05" r="2.15"/><circle cx="199.8" cy="278.24" r="2.15"/><circle cx="200.85" cy="277.47" r="2.15"/><circle cx="201.9" cy="277.79" r="2.15"/><circle cx="202.95" cy="277.67" r="2.15"/><circle cx="204" cy="276.37" r="2.15"/><circle cx="205.05" cy="276.02" r="2.15"/><circle cx="206.1" cy="275.52" r="2.15"/><circle cx="207.15" cy="275.75" r="2.15"/><circle cx="208.2" cy="275.36" r="2.15"/><circle cx="209.25" cy="275.64" r="2.15"/><circle cx="210.3" cy="275.67" r="2.15"/><circle cx="211.35" cy="275.68" r="2.15"/><circle cx="212.4" cy="274.72" r="2.15"/><circle cx="213.45" cy="276.07" r="2.15"/><circle cx="214.5" cy="275.43" r="2.15"/><circle cx="215.55" cy="275.66" r="2.15"/><circle cx="216.6" cy="275.56" r="2.15"/><circle cx="217.65" cy="274.87" r="2.15"/><circle cx="218.7" cy="276.18" r="2.15"/><circle cx="219.75" cy="275.11" r="2.15"/><circle cx="220.8" cy="276.73" r="2.15"/><circle cx="221.85" cy="276.2" r="2.15"/><circle cx="222.9" cy="277.07" r="2.15"/><circle cx="223.95" cy="276.62" r="2.15"/><circle cx="225" cy="276.69" r="2.15"/><circle cx="226.05" cy="277.12" r="2.15"/><circle cx="227.1" cy="276.37" r="2.15"/><circle cx="228.15" cy="277.28" r="2.15"/><circle cx="229.2" cy="276.41" r="2.15"/><circle cx="230.25" cy="276.64" r="2.15"/><circle cx="231.3" cy="276.09" r="2.15"/><circle cx="232.35" cy="276.71" r="2.15"/><circle cx="233.4" cy="276.74" r="2.15"/><circle cx="234.45" cy="276.05" r="2.15"/><circle cx="235.5" cy="275.51" r="2.15"/><circle cx="236.55" cy="276" r="2.15"/><circle cx="237.6" cy="276.05" r="2.15"/><circle cx="238.65" cy="275.54" r="2.15"/><circle cx="239.7" cy="274.9" r="2.15"/><circle cx="240.75" cy="274.84" r="2.15"/><circle cx="241.8" cy="274.9" r="2.15"/><circle cx="242.85" cy="273.5" r="2.15"/><circle cx="243.9" cy="274.53" r="2.15"/><circle cx="244.95" cy="275.55" r="2.15"/><circle cx="246" cy="273.98" r="2.15"/><circle cx="247.05" cy="274.48" r="2.15"/><circle cx="248.1" cy="275.43" r="2.15"/><circle cx="249.15" cy="274.81" r="2.15"/><circle cx="250.2" cy="274.84" r="2.15"/></g>
<circle cx="44.9" cy="237.4" r="1.8" fill="#ff1111" stroke="none" stroke-width="0"/>
<circle cx="45.3" cy="242" r="1.7" fill="#ff1111" stroke="none" stroke-width="0"/>
<circle cx="45.5" cy="245.5" r="1.7" fill="#ff1111" stroke="none" stroke-width="0"/>
<rect x="43.5" y="247.3" width="3.2" height="3.2" fill="#14f014"/>
<line x1="142" y1="243.4" x2="159.3" y2="243.4" stroke="#555" stroke-width="0.9"/>
<circle cx="151.2" cy="243.4" r="1.6" fill="#fff" stroke="#555" stroke-width="0.8"/>
<line x1="142" y1="253" x2="159.3" y2="253" stroke="#ff1111" stroke-width="0.9"/>
<circle cx="151.2" cy="253" r="1.8" fill="#ff1111" stroke="none" stroke-width="0"/>
<text x="162" y="246.3" font-size="7.9" text-anchor="start" fill="#222222" stroke="#222222">Charge capacity</text>
<text x="162" y="255.9" font-size="7.9" text-anchor="start" fill="#222222" stroke="#222222">Discharge capacity</text>
<line x1="99.6" y1="285.2" x2="99.6" y2="303.6" stroke="#222" stroke-width="0.9"/>
<line x1="99.6" y1="303.6" x2="68.5" y2="303.6" stroke="#222" stroke-width="0.9"/>
<path d="M65.8 303.6 L70.3 302 L70.3 305.2 Z" fill="#222"/>
<line x1="214.7" y1="204.3" x2="214.7" y2="219.6" stroke="#222" stroke-width="0.9"/>
<line x1="214.7" y1="219.6" x2="241.5" y2="219.6" stroke="#222" stroke-width="0.9"/>
<path d="M244.2 219.6 L239.7 218 L239.7 221.2 Z" fill="#222"/>
<rect x="44.3" y="191.2" width="206.9" height="151.9" fill="none" stroke="#161616" stroke-width="1.45"/>
<line x1="40.7" y1="343.1" x2="44.3" y2="343.1" stroke="#161616" stroke-width="1.45"/>
<text x="38.9" y="345.85" font-size="7.6" text-anchor="end" fill="#222222" stroke="#222222">0</text>
<line x1="40.7" y1="316.5" x2="44.3" y2="316.5" stroke="#161616" stroke-width="1.45"/>
<text x="38.9" y="319.25" font-size="7.6" text-anchor="end" fill="#222222" stroke="#222222">400</text>
<line x1="40.7" y1="289.9" x2="44.3" y2="289.9" stroke="#161616" stroke-width="1.45"/>
<text x="38.9" y="292.65" font-size="7.6" text-anchor="end" fill="#222222" stroke="#222222">800</text>
<line x1="40.7" y1="263.3" x2="44.3" y2="263.3" stroke="#161616" stroke-width="1.45"/>
<text x="38.9" y="266.05" font-size="7.6" text-anchor="end" fill="#222222" stroke="#222222">1200</text>
<line x1="40.7" y1="236.7" x2="44.3" y2="236.7" stroke="#161616" stroke-width="1.45"/>
<text x="38.9" y="239.45" font-size="7.6" text-anchor="end" fill="#222222" stroke="#222222">1600</text>
<line x1="40.7" y1="210.1" x2="44.3" y2="210.1" stroke="#161616" stroke-width="1.45"/>
<text x="38.9" y="212.85" font-size="7.6" text-anchor="end" fill="#222222" stroke="#222222">2000</text>
<line x1="42.3" y1="329.8" x2="44.3" y2="329.8" stroke="#161616" stroke-width="1.45"/>
<line x1="42.3" y1="303.2" x2="44.3" y2="303.2" stroke="#161616" stroke-width="1.45"/>
<line x1="42.3" y1="276.6" x2="44.3" y2="276.6" stroke="#161616" stroke-width="1.45"/>
<line x1="42.3" y1="250" x2="44.3" y2="250" stroke="#161616" stroke-width="1.45"/>
<line x1="42.3" y1="223.4" x2="44.3" y2="223.4" stroke="#161616" stroke-width="1.45"/>
<line x1="42.3" y1="196.8" x2="44.3" y2="196.8" stroke="#161616" stroke-width="1.45"/>
<line x1="78.79" y1="343.1" x2="78.79" y2="346.5" stroke="#161616" stroke-width="1.45"/>
<text x="78.79" y="355" font-size="7.6" text-anchor="middle" fill="#222222" stroke="#222222">100</text>
<line x1="113.28" y1="343.1" x2="113.28" y2="346.5" stroke="#161616" stroke-width="1.45"/>
<text x="113.28" y="355" font-size="7.6" text-anchor="middle" fill="#222222" stroke="#222222">200</text>
<line x1="147.77" y1="343.1" x2="147.77" y2="346.5" stroke="#161616" stroke-width="1.45"/>
<text x="147.77" y="355" font-size="7.6" text-anchor="middle" fill="#222222" stroke="#222222">300</text>
<line x1="182.26" y1="343.1" x2="182.26" y2="346.5" stroke="#161616" stroke-width="1.45"/>
<text x="182.26" y="355" font-size="7.6" text-anchor="middle" fill="#222222" stroke="#222222">400</text>
<line x1="216.75" y1="343.1" x2="216.75" y2="346.5" stroke="#161616" stroke-width="1.45"/>
<text x="216.75" y="355" font-size="7.6" text-anchor="middle" fill="#222222" stroke="#222222">500</text>
<line x1="251.24" y1="343.1" x2="251.24" y2="346.5" stroke="#161616" stroke-width="1.45"/>
<text x="251.24" y="355" font-size="7.6" text-anchor="middle" fill="#222222" stroke="#222222">600</text>
<line x1="61.54" y1="343.1" x2="61.54" y2="345.1" stroke="#161616" stroke-width="1.45"/>
<line x1="96.03" y1="343.1" x2="96.03" y2="345.1" stroke="#161616" stroke-width="1.45"/>
<line x1="130.52" y1="343.1" x2="130.52" y2="345.1" stroke="#161616" stroke-width="1.45"/>
<line x1="165.01" y1="343.1" x2="165.01" y2="345.1" stroke="#161616" stroke-width="1.45"/>
<line x1="199.5" y1="343.1" x2="199.5" y2="345.1" stroke="#161616" stroke-width="1.45"/>
<line x1="234" y1="343.1" x2="234" y2="345.1" stroke="#161616" stroke-width="1.45"/>
<line x1="247.8" y1="343.1" x2="251.2" y2="343.1" stroke="#161616" stroke-width="1.45"/>
<text x="255.5" y="345.85" font-size="7.6" text-anchor="start" fill="#222222" stroke="#222222">0</text>
<line x1="247.8" y1="314.08" x2="251.2" y2="314.08" stroke="#161616" stroke-width="1.45"/>
<text x="255.5" y="316.83" font-size="7.6" text-anchor="start" fill="#222222" stroke="#222222">20</text>
<line x1="247.8" y1="285.06" x2="251.2" y2="285.06" stroke="#161616" stroke-width="1.45"/>
<text x="255.5" y="287.81" font-size="7.6" text-anchor="start" fill="#222222" stroke="#222222">40</text>
<line x1="247.8" y1="256.04" x2="251.2" y2="256.04" stroke="#161616" stroke-width="1.45"/>
<text x="255.5" y="258.79" font-size="7.6" text-anchor="start" fill="#222222" stroke="#222222">60</text>
<line x1="247.8" y1="227.02" x2="251.2" y2="227.02" stroke="#161616" stroke-width="1.45"/>
<text x="255.5" y="229.77" font-size="7.6" text-anchor="start" fill="#222222" stroke="#222222">80</text>
<line x1="247.8" y1="198" x2="251.2" y2="198" stroke="#161616" stroke-width="1.45"/>
<text x="255.5" y="200.75" font-size="7.6" text-anchor="start" fill="#222222" stroke="#222222">100</text>
<line x1="249.2" y1="328.59" x2="251.2" y2="328.59" stroke="#161616" stroke-width="1.45"/>
<line x1="249.2" y1="299.57" x2="251.2" y2="299.57" stroke="#161616" stroke-width="1.45"/>
<line x1="249.2" y1="270.55" x2="251.2" y2="270.55" stroke="#161616" stroke-width="1.45"/>
<line x1="249.2" y1="241.53" x2="251.2" y2="241.53" stroke="#161616" stroke-width="1.45"/>
<line x1="249.2" y1="212.51" x2="251.2" y2="212.51" stroke="#161616" stroke-width="1.45"/>
<text x="147.7" y="367.9" font-size="7.95" text-anchor="middle" fill="#222222" stroke="#222222">Cycle number</text>
<text transform="translate(14.9 272.2) rotate(-90)" font-size="8.0" text-anchor="middle" fill="#222222" stroke="#222">Specific capacity / mAh g<tspan font-size="4.8" dy="-3.4">-1</tspan></text>
<text transform="translate(279.0 272.6) rotate(-90)" font-size="7.9" text-anchor="middle" fill="#222222" stroke="#222">Coulombic efficiency / %</text>
<text x="1.3" y="204.6" font-size="17" fill="#111" class="sf">(c)</text>
<rect x="333.5" y="189.7" width="206.5" height="152.7" fill="none" stroke="#161616" stroke-width="1.45"/>
<line x1="330" y1="311.85" x2="333.5" y2="311.85" stroke="#161616" stroke-width="1.45"/>
<text x="328.5" y="314.55" font-size="7.6" text-anchor="end" fill="#222222" stroke="#222222">0.5</text>
<line x1="330" y1="281.3" x2="333.5" y2="281.3" stroke="#161616" stroke-width="1.45"/>
<text x="328.5" y="284" font-size="7.6" text-anchor="end" fill="#222222" stroke="#222222">1.0</text>
<line x1="330" y1="250.75" x2="333.5" y2="250.75" stroke="#161616" stroke-width="1.45"/>
<text x="328.5" y="253.45" font-size="7.6" text-anchor="end" fill="#222222" stroke="#222222">1.5</text>
<line x1="330" y1="220.2" x2="333.5" y2="220.2" stroke="#161616" stroke-width="1.45"/>
<text x="328.5" y="222.9" font-size="7.6" text-anchor="end" fill="#222222" stroke="#222222">2.0</text>
<line x1="330" y1="189.65" x2="333.5" y2="189.65" stroke="#161616" stroke-width="1.45"/>
<text x="328.5" y="192.35" font-size="7.6" text-anchor="end" fill="#222222" stroke="#222222">2.5</text>
<line x1="331.5" y1="327.12" x2="333.5" y2="327.12" stroke="#161616" stroke-width="1.45"/>
<line x1="331.5" y1="296.57" x2="333.5" y2="296.57" stroke="#161616" stroke-width="1.45"/>
<line x1="331.5" y1="266.02" x2="333.5" y2="266.02" stroke="#161616" stroke-width="1.45"/>
<line x1="331.5" y1="235.47" x2="333.5" y2="235.47" stroke="#161616" stroke-width="1.45"/>
<line x1="331.5" y1="204.92" x2="333.5" y2="204.92" stroke="#161616" stroke-width="1.45"/>
<line x1="333.5" y1="342.4" x2="333.5" y2="345.8" stroke="#161616" stroke-width="1.45"/>
<text x="333.5" y="353.9" font-size="7.6" text-anchor="middle" fill="#222222" stroke="#222222">0</text>
<line x1="374.8" y1="342.4" x2="374.8" y2="345.8" stroke="#161616" stroke-width="1.45"/>
<text x="374.8" y="353.9" font-size="7.6" text-anchor="middle" fill="#222222" stroke="#222222">500</text>
<line x1="416.1" y1="342.4" x2="416.1" y2="345.8" stroke="#161616" stroke-width="1.45"/>
<text x="416.1" y="353.9" font-size="7.6" text-anchor="middle" fill="#222222" stroke="#222222">1000</text>
<line x1="457.4" y1="342.4" x2="457.4" y2="345.8" stroke="#161616" stroke-width="1.45"/>
<text x="457.4" y="353.9" font-size="7.6" text-anchor="middle" fill="#222222" stroke="#222222">1500</text>
<line x1="498.7" y1="342.4" x2="498.7" y2="345.8" stroke="#161616" stroke-width="1.45"/>
<text x="498.7" y="353.9" font-size="7.6" text-anchor="middle" fill="#222222" stroke="#222222">2000</text>
<line x1="540" y1="342.4" x2="540" y2="345.8" stroke="#161616" stroke-width="1.45"/>
<text x="540" y="353.9" font-size="7.6" text-anchor="middle" fill="#222222" stroke="#222222">2500</text>
<line x1="354.15" y1="342.4" x2="354.15" y2="344.4" stroke="#161616" stroke-width="1.45"/>
<line x1="395.45" y1="342.4" x2="395.45" y2="344.4" stroke="#161616" stroke-width="1.45"/>
<line x1="436.75" y1="342.4" x2="436.75" y2="344.4" stroke="#161616" stroke-width="1.45"/>
<line x1="478.05" y1="342.4" x2="478.05" y2="344.4" stroke="#161616" stroke-width="1.45"/>
<line x1="519.35" y1="342.4" x2="519.35" y2="344.4" stroke="#161616" stroke-width="1.45"/>
<text x="391" y="368.0" font-size="7.9" fill="#222222" stroke="#222">Specific capacity / mAh g<tspan font-size="4.8" dy="-3.4">-1</tspan></text>
<text transform="translate(305.4 270) rotate(-90)" font-size="7.9" text-anchor="middle" fill="#222222" stroke="#222">Voltage / V</text>
<text x="293.6" y="200.6" font-size="17" fill="#111" class="sf">(d)</text>
<path d="M334.2 190.5 C334.25 194.58 334.37 207.58 334.5 215 C334.63 222.42 334.77 229.83 335 235 C335.23 240.17 335.53 243.08 335.9 246 C336.27 248.92 336.65 250.7 337.2 252.5 C337.75 254.3 338.48 255.72 339.2 256.8 C339.92 257.88 340.62 258.37 341.5 259 C342.38 259.63 343.42 260.05 344.5 260.6 C345.58 261.15 346.75 261.47 348 262.3 C349.25 263.13 350.5 264.05 352 265.6 C353.5 267.15 355.33 269.5 357 271.6 C358.67 273.7 360.5 276.23 362 278.2 C363.5 280.17 364.67 281.9 366 283.4 C367.33 284.9 368.67 286.22 370 287.2 C371.33 288.18 372.33 288.73 374 289.3 C375.67 289.87 377.33 290.05 380 290.6 C382.67 291.15 386.17 291.83 390 292.6 C393.83 293.37 398.5 294.43 403 295.2 C407.5 295.97 412.5 296.28 417 297.2 C421.5 298.12 426.47 299.83 430 300.7 C433.53 301.57 435.47 301.53 438.2 302.4 C440.93 303.27 443.67 304.3 446.4 305.9 C449.13 307.5 451.53 309.78 454.6 312 C457.67 314.22 461.73 317.38 464.8 319.2 C467.87 321.02 470.43 321.88 473 322.9 C475.57 323.92 477.47 323.7 480.2 325.3 C482.93 326.9 486.15 330.28 489.4 332.5 C492.65 334.72 496.43 336.98 499.7 338.6 C502.97 340.22 507.45 341.6 509 342.2" fill="none" stroke="#333333" stroke-width="1.15" stroke-linejoin="round" stroke-linecap="round"/>
<path d="M334.6 341 C334.97 339.75 336.03 336.25 336.8 333.5 C337.57 330.75 338.2 327.97 339.2 324.5 C340.2 321.03 341.6 316.15 342.8 312.7 C344 309.25 345.2 306.5 346.4 303.8 C347.6 301.1 348.9 298.47 350 296.5 C351.1 294.53 351.73 293.58 353 292 C354.27 290.42 356 288.52 357.6 287 C359.2 285.48 360.43 284.38 362.6 282.9 C364.77 281.42 367.53 279.58 370.6 278.1 C373.67 276.62 377.93 274.9 381 274 C384.07 273.1 386.5 273.1 389 272.7 C391.5 272.3 394 271.98 396 271.6 C398 271.22 398.5 270.88 401 270.4 C403.5 269.92 407.67 269.28 411 268.7 C414.33 268.12 418.33 267.47 421 266.9 C423.67 266.33 425.33 265.9 427 265.3 C428.67 264.7 429.9 264.1 431 263.3 C432.1 262.5 432.68 261.88 433.6 260.5 C434.52 259.12 435.68 256.75 436.5 255 C437.32 253.25 437.85 251.67 438.5 250 C439.15 248.33 439.87 246.67 440.4 245 C440.93 243.33 441.32 241.67 441.7 240 C442.08 238.33 442.4 236.67 442.7 235 C443 233.33 443.25 231.67 443.5 230 C443.75 228.33 443.73 228.33 444.2 225 C444.67 221.67 445.57 215.88 446.3 210 C447.03 204.12 448.22 193.08 448.6 189.7" fill="none" stroke="#333333" stroke-width="1.15" stroke-linejoin="round" stroke-linecap="round"/>
<path d="M334 190.5 C334.07 193.75 334.25 203.42 334.4 210 C334.55 216.58 334.68 224.17 334.9 230 C335.12 235.83 335.35 240.33 335.7 245 C336.05 249.67 336.45 253.83 337 258 C337.55 262.17 338.17 266.42 339 270 C339.83 273.58 340.83 277 342 279.5 C343.17 282 344.58 283.65 346 285 C347.42 286.35 349.08 287.02 350.5 287.6 C351.92 288.18 352.92 288.3 354.5 288.5 C356.08 288.7 357.42 288.38 360 288.8 C362.58 289.22 365.5 290.1 370 291 C374.5 291.9 382 293.1 387 294.2 C392 295.3 396.33 296.67 400 297.6 C403.67 298.53 406.17 298.15 409 299.8 C411.83 301.45 414.67 304.38 417 307.5 C419.33 310.62 420.67 314.5 423 318.5 C425.33 322.5 428.5 328.17 431 331.5 C433.5 334.83 435.5 336.72 438 338.5 C440.5 340.28 444.67 341.58 446 342.2" fill="none" stroke="#ff3a3a" stroke-width="1.15" stroke-linejoin="round" stroke-linecap="round"/>
<path d="M334 190.5 C334.07 193.75 334.25 203.42 334.4 210 C334.55 216.58 334.68 224.17 334.9 230 C335.12 235.83 335.35 240.33 335.7 245 C336.05 249.67 336.45 253.83 337 258 C337.55 262.17 338.17 266.42 339 270 C339.83 273.58 340.83 277 342 279.5 C343.17 282 344.58 283.65 346 285 C347.42 286.35 349.08 287.02 350.5 287.6 C351.92 288.18 352.92 288.23 354.5 288.5 C356.08 288.77 357.42 288.68 360 289.2 C362.58 289.72 365.5 290.63 370 291.6 C374.5 292.57 383.17 294.17 387 295 C390.83 295.83 390.33 294.9 393 296.6 C395.67 298.3 400.33 302.22 403 305.2 C405.67 308.18 406.67 311.12 409 314.5 C411.33 317.88 414 321.92 417 325.5 C420 329.08 424 333.22 427 336 C430 338.78 433.67 341.17 435 342.2" fill="none" stroke="#33ee33" stroke-width="1.15" stroke-linejoin="round" stroke-linecap="round"/>
<path d="M333.9 190.5 C333.97 193.75 334.15 203.42 334.3 210 C334.45 216.58 334.58 224.17 334.8 230 C335.02 235.83 335.25 240.33 335.6 245 C335.95 249.67 336.35 253.83 336.9 258 C337.45 262.17 338.07 266.42 338.9 270 C339.73 273.58 340.73 277 341.9 279.5 C343.07 282 344.48 283.65 345.9 285 C347.32 286.35 348.98 287.02 350.4 287.6 C351.82 288.18 352.8 288.07 354.4 288.5 C356 288.93 356.9 289.32 360 290.2 C363.1 291.08 368.5 292.37 373 293.8 C377.5 295.23 383 295.77 387 298.8 C391 301.83 394.33 308.05 397 312 C399.67 315.95 400.33 318.67 403 322.5 C405.67 326.33 409.67 331.72 413 335 C416.33 338.28 421.33 341 423 342.2" fill="none" stroke="#3a3aff" stroke-width="1.15" stroke-linejoin="round" stroke-linecap="round"/>
<path d="M335.3 190.5 C335.38 193.75 335.62 203.42 335.8 210 C335.98 216.58 336.12 223.33 336.4 230 C336.68 236.67 337.07 244.67 337.5 250 C337.93 255.33 338.33 258.17 339 262 C339.67 265.83 340.58 269.83 341.5 273 C342.42 276.17 343.25 278.75 344.5 281 C345.75 283.25 347.42 285.23 349 286.5 C350.58 287.77 352.17 287.52 354 288.6 C355.83 289.68 357.33 290.93 360 293 C362.67 295.07 367 298.08 370 301 C373 303.92 375.5 307.25 378 310.5 C380.5 313.75 382.17 316.88 385 320.5 C387.83 324.12 391.67 329.03 395 332.2 C398.33 335.37 401.5 337.83 405 339.5 C408.5 341.17 414.17 341.75 416 342.2" fill="none" stroke="#8a8a2a" stroke-width="1.15" stroke-linejoin="round" stroke-linecap="round"/>
<path d="M334.1 190.5 C334.17 193.75 334.35 203.42 334.5 210 C334.65 216.58 334.78 224.17 335 230 C335.22 235.83 335.45 240.33 335.8 245 C336.15 249.67 336.55 253.83 337.1 258 C337.65 262.17 338.27 266.42 339.1 270 C339.93 273.58 340.93 277 342.1 279.5 C343.27 282 344.68 283.65 346.1 285 C347.52 286.35 349.18 287.02 350.6 287.6 C352.02 288.18 353.03 287.7 354.6 288.5 C356.17 289.3 357.43 290.48 360 292.4 C362.57 294.32 367.17 297.23 370 300 C372.83 302.77 374.67 305.75 377 309 C379.33 312.25 381.17 315.83 384 319.5 C386.83 323.17 390.67 327.75 394 331 C397.33 334.25 400.83 337.13 404 339 C407.17 340.87 411.5 341.67 413 342.2" fill="none" stroke="#ff30ff" stroke-width="1.15" stroke-linejoin="round" stroke-linecap="round"/>
<path d="M333.8 190.5 C333.87 193.75 334.05 203.42 334.2 210 C334.35 216.58 334.48 224.17 334.7 230 C334.92 235.83 335.15 240.33 335.5 245 C335.85 249.67 336.25 253.83 336.8 258 C337.35 262.17 337.97 266.42 338.8 270 C339.63 273.58 340.63 277 341.8 279.5 C342.97 282 344.38 283.65 345.8 285 C347.22 286.35 348.88 287.02 350.3 287.6 C351.72 288.18 352.68 287.67 354.3 288.5 C355.92 289.33 357.55 290.77 360 292.6 C362.45 294.43 366.33 296.93 369 299.5 C371.67 302.07 373.67 304.67 376 308 C378.33 311.33 380.17 315.5 383 319.5 C385.83 323.5 390.17 328.75 393 332 C395.83 335.25 397.67 337.3 400 339 C402.33 340.7 405.83 341.67 407 342.2" fill="none" stroke="#22f0f0" stroke-width="1.15" stroke-linejoin="round" stroke-linecap="round"/>
<path d="M334 340.5 C334.37 339.25 335.43 335.75 336.2 333 C336.97 330.25 337.6 327.47 338.6 324 C339.6 320.53 341 315.65 342.2 312.2 C343.4 308.75 344.6 306 345.8 303.3 C347 300.6 348.3 297.97 349.4 296 C350.5 294.03 351.13 293.08 352.4 291.5 C353.67 289.92 355.4 288.02 357 286.5 C358.6 284.98 359.83 283.88 362 282.4 C364.17 280.92 367 279 370 277.6 C373 276.2 377 274.82 380 274 C383 273.18 385.5 273.1 388 272.7 C390.5 272.3 393 271.98 395 271.6 C397 271.22 397.5 270.88 400 270.4 C402.5 269.92 406.67 269.28 410 268.7 C413.33 268.12 417.33 267.47 420 266.9 C422.67 266.33 424.33 265.9 426 265.3 C427.67 264.7 428.9 264.1 430 263.3 C431.1 262.5 431.68 261.88 432.6 260.5 C433.52 259.12 434.68 256.75 435.5 255 C436.32 253.25 436.85 251.67 437.5 250 C438.15 248.33 438.87 246.67 439.4 245 C439.93 243.33 440.32 241.67 440.7 240 C441.08 238.33 441.4 236.67 441.7 235 C442 233.33 442.25 231.67 442.5 230 C442.75 228.33 442.73 228.33 443.2 225 C443.67 221.67 444.57 215.88 445.3 210 C446.03 204.12 447.22 193.08 447.6 189.7" fill="none" stroke="#ff3a3a" stroke-width="1.15" stroke-linejoin="round" stroke-linecap="round"/>
<path d="M334 340.5 C334.25 339.25 334.87 335.75 335.5 333 C336.13 330.25 336.88 327.47 337.8 324 C338.72 320.53 339.9 315.65 341 312.2 C342.1 308.75 343.27 306 344.4 303.3 C345.53 300.6 346.7 298.13 347.8 296 C348.9 293.87 349.63 292.37 351 290.5 C352.37 288.63 354.17 286.45 356 284.8 C357.83 283.15 359.67 281.9 362 280.6 C364.33 279.3 367 278.27 370 277 C373 275.73 376.67 274.07 380 273 C383.33 271.93 387.5 271.2 390 270.6 C392.5 270 393.33 269.78 395 269.4 C396.67 269.02 397.5 268.77 400 268.3 C402.5 267.83 407.5 267.1 410 266.6 C412.5 266.1 413.67 265.78 415 265.3 C416.33 264.82 417.08 264.37 418 263.7 C418.92 263.03 419.58 262.67 420.5 261.3 C421.42 259.93 422.62 257.38 423.5 255.5 C424.38 253.62 425.13 251.75 425.8 250 C426.47 248.25 427.02 246.67 427.5 245 C427.98 243.33 428.35 241.67 428.7 240 C429.05 238.33 429.33 236.67 429.6 235 C429.87 233.33 430.07 231.67 430.3 230 C430.53 228.33 430.52 228.33 431 225 C431.48 221.67 432.38 215.88 433.2 210 C434.02 204.12 435.45 193.08 435.9 189.7" fill="none" stroke="#33ee33" stroke-width="1.15" stroke-linejoin="round" stroke-linecap="round"/>
<path d="M334 340.5 C334.2 339.25 334.67 335.75 335.2 333 C335.73 330.25 336.37 327.47 337.2 324 C338.03 320.53 339.2 315.65 340.2 312.2 C341.2 308.75 342.15 306 343.2 303.3 C344.25 300.6 345.4 298.22 346.5 296 C347.6 293.78 348.38 292.23 349.8 290 C351.22 287.77 353.3 284.53 355 282.6 C356.7 280.67 357.5 279.77 360 278.4 C362.5 277.03 366.67 275.6 370 274.4 C373.33 273.2 377.17 272.02 380 271.2 C382.83 270.38 384.5 270.15 387 269.5 C389.5 268.85 392.83 267.92 395 267.3 C397.17 266.68 398.67 266.3 400 265.8 C401.33 265.3 402.12 264.85 403 264.3 C403.88 263.75 404.6 263.22 405.3 262.5 C406 261.78 406.62 261 407.2 260 C407.78 259 408.23 257.83 408.8 256.5 C409.37 255.17 409.82 254.08 410.6 252 C411.38 249.92 412.57 246.67 413.5 244 C414.43 241.33 415.42 239 416.2 236 C416.98 233 417.4 230.33 418.2 226 C419 221.67 420.07 216.05 421 210 C421.93 203.95 423.33 193.08 423.8 189.7" fill="none" stroke="#3a3aff" stroke-width="1.15" stroke-linejoin="round" stroke-linecap="round"/>
<path d="M334 340.5 C334.3 339.25 335.13 335.75 335.8 333 C336.47 330.25 337.1 327.47 338 324 C338.9 320.53 340.13 315.65 341.2 312.2 C342.27 308.75 343.33 306 344.4 303.3 C345.47 300.6 346.53 298.13 347.6 296 C348.67 293.87 349.4 292.4 350.8 290.5 C352.2 288.6 354.13 286.32 356 284.6 C357.87 282.88 359.67 281.7 362 280.2 C364.33 278.7 367.67 277 370 275.6 C372.33 274.2 374.17 273.03 376 271.8 C377.83 270.57 379.58 269.33 381 268.2 C382.42 267.07 383.57 265.97 384.5 265 C385.43 264.03 385.78 263.98 386.6 262.4 C387.42 260.82 388.43 257.9 389.4 255.5 C390.37 253.1 390.88 251.58 392.4 248 C393.92 244.42 396.42 238.83 398.5 234 C400.58 229.17 402.77 223.92 404.9 219 C407.03 214.08 409.15 209.38 411.3 204.5 C413.45 199.62 416.72 192.17 417.8 189.7" fill="none" stroke="#ff30ff" stroke-width="1.15" stroke-linejoin="round" stroke-linecap="round"/>
<path d="M334 340.5 C334.33 339.75 335 338.48 336 336 C337 333.52 338.5 329.57 340 325.6 C341.5 321.63 343.33 316.4 345 312.2 C346.67 308 348.5 303.73 350 300.4 C351.5 297.07 352.83 294.6 354 292.2 C355.17 289.8 356 287.8 357 286 C358 284.2 358.67 282.8 360 281.4 C361.33 280 363.33 278.77 365 277.6 C366.67 276.43 368.33 275.47 370 274.4 C371.67 273.33 373.33 272.27 375 271.2 C376.67 270.13 378.5 269.03 380 268 C381.5 266.97 382.87 265.93 384 265 C385.13 264.07 385.87 263.98 386.8 262.4 C387.73 260.82 388.63 257.9 389.6 255.5 C390.57 253.1 391.08 251.58 392.6 248 C394.12 244.42 396.62 238.83 398.7 234 C400.78 229.17 402.97 223.92 405.1 219 C407.23 214.08 409.35 209.38 411.5 204.5 C413.65 199.62 416.92 192.17 418 189.7" fill="none" stroke="#8a8a2a" stroke-width="1.15" stroke-linejoin="round" stroke-linecap="round"/>
<path d="M334 340.5 C334.2 339.25 334.67 335.75 335.2 333 C335.73 330.25 336.37 327.47 337.2 324 C338.03 320.53 339.2 315.65 340.2 312.2 C341.2 308.75 342.18 306 343.2 303.3 C344.22 300.6 345.25 298.22 346.3 296 C347.35 293.78 348.22 292.03 349.5 290 C350.78 287.97 352.25 285.87 354 283.8 C355.75 281.73 358.17 279.3 360 277.6 C361.83 275.9 363.33 274.77 365 273.6 C366.67 272.43 368.33 271.53 370 270.6 C371.67 269.67 373.33 268.83 375 268 C376.67 267.17 378.5 266.38 380 265.6 C381.5 264.82 382.9 264.13 384 263.3 C385.1 262.47 385.8 261.9 386.6 260.6 C387.4 259.3 388.03 257.6 388.8 255.5 C389.57 253.4 390.43 250.58 391.2 248 C391.97 245.42 392.7 242.5 393.4 240 C394.1 237.5 394.73 235.5 395.4 233 C396.07 230.5 396.58 228.33 397.4 225 C398.22 221.67 399.3 217 400.3 213 C401.3 209 402.35 204.88 403.4 201 C404.45 197.12 406.07 191.58 406.6 189.7" fill="none" stroke="#22f0f0" stroke-width="1.15" stroke-linejoin="round" stroke-linecap="round"/>
<line x1="495.8" y1="197.5" x2="513.4" y2="197.5" stroke="#333333" stroke-width="1"/>
<text x="516.6" y="200.35" font-size="7.9" text-anchor="start" fill="#222222" stroke="#222222">1st</text>
<line x1="495.8" y1="207.18" x2="513.4" y2="207.18" stroke="#ff3a3a" stroke-width="1"/>
<text x="516.6" y="210.03" font-size="7.9" text-anchor="start" fill="#222222" stroke="#222222">10th</text>
<line x1="495.8" y1="216.86" x2="513.4" y2="216.86" stroke="#33ee33" stroke-width="1"/>
<text x="516.6" y="219.71" font-size="7.9" text-anchor="start" fill="#222222" stroke="#222222">50th</text>
<line x1="495.8" y1="226.54" x2="513.4" y2="226.54" stroke="#3a3aff" stroke-width="1"/>
<text x="516.6" y="229.39" font-size="7.9" text-anchor="start" fill="#222222" stroke="#222222">100th</text>
<line x1="495.8" y1="236.22" x2="513.4" y2="236.22" stroke="#22f0f0" stroke-width="1"/>
<text x="516.6" y="239.07" font-size="7.9" text-anchor="start" fill="#222222" stroke="#222222">300th</text>
<line x1="495.8" y1="245.9" x2="513.4" y2="245.9" stroke="#ff30ff" stroke-width="1"/>
<text x="516.6" y="248.75" font-size="7.9" text-anchor="start" fill="#222222" stroke="#222222">500th</text>
<line x1="495.8" y1="255.58" x2="513.4" y2="255.58" stroke="#8a8a2a" stroke-width="1"/>
<text x="516.6" y="258.43" font-size="7.9" text-anchor="start" fill="#222222" stroke="#222222">600th</text>
</svg>
</body></html>
